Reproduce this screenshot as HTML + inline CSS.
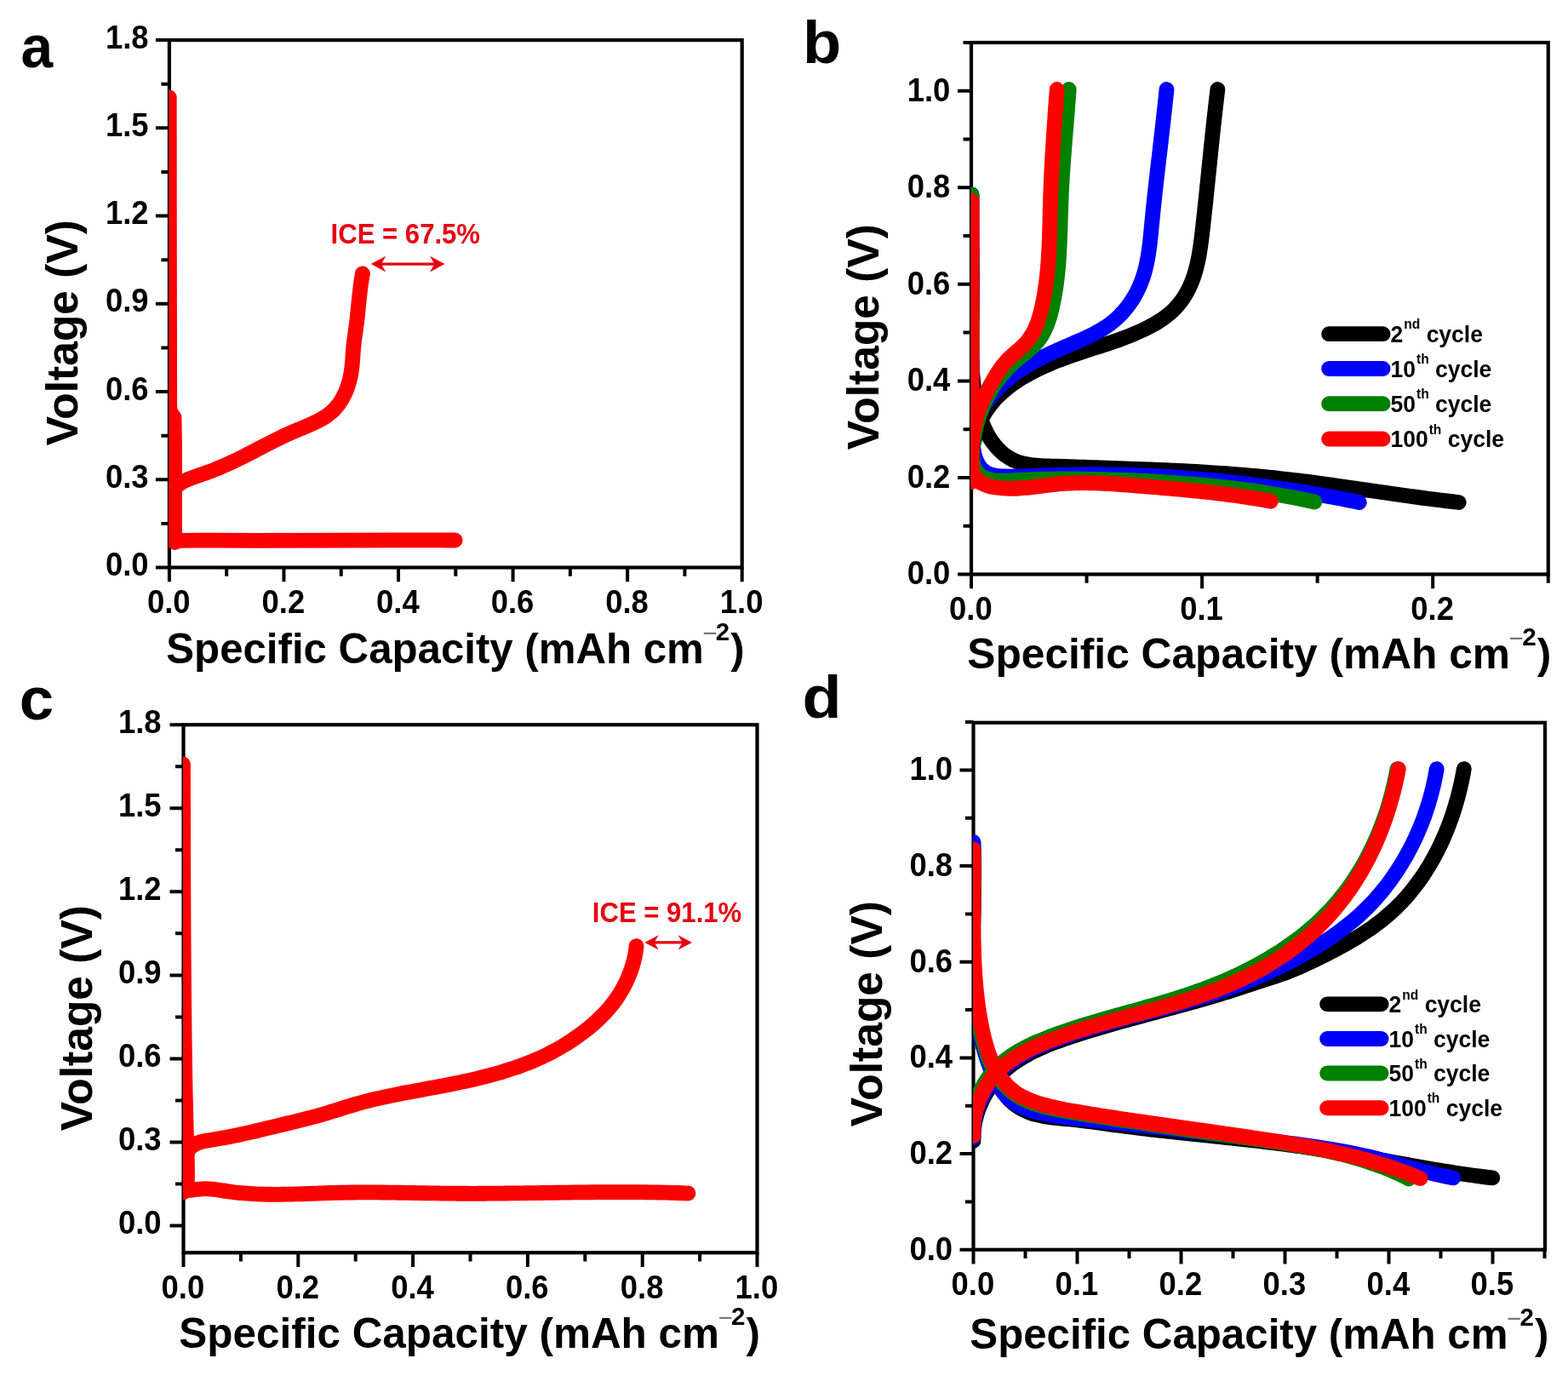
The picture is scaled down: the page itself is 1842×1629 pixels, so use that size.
<!DOCTYPE html>
<html lang="en">
<head>
<meta charset="utf-8">
<title>Galvanostatic voltage profiles</title>
<style>
html,body{margin:0;padding:0;background:#fff;}
body{width:1842px;height:1629px;overflow:hidden;}
svg{display:block;}
text{font-family:"Liberation Sans", Arial, Helvetica, sans-serif;font-weight:bold;}
</style>
</head>
<body>
<svg xmlns="http://www.w3.org/2000/svg" width="1842" height="1629" viewBox="0 0 1842 1629">
<rect width="1842" height="1629" fill="#fff"/>
<g id="axes-a">
<path d="M198.9 666.5v16.8M333.46 666.5v16.8M468.02 666.5v16.8M602.58 666.5v16.8M737.14 666.5v16.8M871.7 666.5v16.8M266.18 666.5v10.3M400.74 666.5v10.3M535.3 666.5v10.3M669.86 666.5v10.3M804.42 666.5v10.3M198.9 666.5h-16M198.9 563.27h-16M198.9 460.03h-16M198.9 356.8h-16M198.9 253.57h-16M198.9 150.33h-16M198.9 47.1h-16M198.9 614.88h-9.5M198.9 511.65h-9.5M198.9 408.42h-9.5M198.9 305.18h-9.5M198.9 201.95h-9.5M198.9 98.72h-9.5" stroke="#000" stroke-width="4" fill="none"/>
<rect x="198.9" y="47.1" width="672.8" height="619.4" fill="none" stroke="#000" stroke-width="4.2"/>
<text transform="translate(198.3 720.4) scale(1 1.07)" font-size="36.4" text-anchor="middle">0.0</text>
<text transform="translate(332.86 720.4) scale(1 1.07)" font-size="36.4" text-anchor="middle">0.2</text>
<text transform="translate(467.42 720.4) scale(1 1.07)" font-size="36.4" text-anchor="middle">0.4</text>
<text transform="translate(601.98 720.4) scale(1 1.07)" font-size="36.4" text-anchor="middle">0.6</text>
<text transform="translate(736.54 720.4) scale(1 1.07)" font-size="36.4" text-anchor="middle">0.8</text>
<text transform="translate(871.1 720.4) scale(1 1.07)" font-size="36.4" text-anchor="middle">1.0</text>
<text transform="translate(174.5 676) scale(1 1.07)" font-size="36.4" text-anchor="end">0.0</text>
<text transform="translate(174.5 572.77) scale(1 1.07)" font-size="36.4" text-anchor="end">0.3</text>
<text transform="translate(174.5 469.53) scale(1 1.07)" font-size="36.4" text-anchor="end">0.6</text>
<text transform="translate(174.5 366.3) scale(1 1.07)" font-size="36.4" text-anchor="end">0.9</text>
<text transform="translate(174.5 263.07) scale(1 1.07)" font-size="36.4" text-anchor="end">1.2</text>
<text transform="translate(174.5 159.83) scale(1 1.07)" font-size="36.4" text-anchor="end">1.5</text>
<text transform="translate(174.5 56.6) scale(1 1.07)" font-size="36.4" text-anchor="end">1.8</text>
<text transform="translate(195.3 778.8) scale(0.998 1.03)" font-size="49.3">Specific Capacity (mAh cm<tspan font-size="29.5" font-weight="normal" fill="#777" dy="-24.2" dx="-1.2">−</tspan><tspan font-size="29.5" dy="-2.2" dx="-2">2</tspan><tspan dy="26.4" dx="1">)</tspan></text>
<text transform="translate(90.5 523.2) rotate(-90)" font-size="51.5">Voltage (V)</text>
<text transform="translate(24.5 79) scale(0.96 1)" font-size="70.5">a</text>
</g>
<clipPath id="clip-a"><rect x="198.4" y="47.1" width="673.3" height="619.4"/></clipPath>
<g id="curves-a" clip-path="url(#clip-a)" fill="none" stroke-width="17.8" stroke-linecap="round" stroke-linejoin="round">
<path d="M198.75 114.25L198.9 300L199.2 478L200 484L204.5 490L205 520L205 600L205 630L205.3 637L207 636L212 634.8L230 634.6L300 634.8L400 634.6L480 634.4L534.75 634.5" stroke="#ff0000"/>
<path d="M199 634C199.1 632.87 199.5 629.53 199.62 627.2C199.75 624.88 199.75 622.48 199.74 620.06C199.73 617.64 199.64 615.16 199.58 612.68C199.52 610.19 199.42 607.67 199.38 605.16C199.35 602.65 199.31 600.11 199.38 597.63C199.45 595.14 199.55 592.63 199.82 590.24C200.1 587.85 200.44 585.48 201.02 583.27C201.59 581.07 202.3 578.93 203.27 577.01C204.25 575.09 205.45 573.31 206.89 571.73C208.33 570.15 210.06 568.78 211.91 567.53C213.76 566.28 215.86 565.23 218 564.23C220.13 563.22 222.45 562.37 224.72 561.5C226.99 560.63 229.32 559.82 231.63 559C233.94 558.18 236.27 557.38 238.59 556.57C240.9 555.76 243.22 554.95 245.52 554.12C247.81 553.28 250.09 552.43 252.35 551.54C254.6 550.66 256.84 549.75 259.06 548.81C261.27 547.88 263.47 546.92 265.66 545.95C267.84 544.97 270.01 543.97 272.17 542.96C274.33 541.95 276.47 540.92 278.61 539.87C280.74 538.83 282.87 537.77 284.99 536.71C287.11 535.64 289.22 534.57 291.33 533.48C293.44 532.4 295.54 531.31 297.65 530.22C299.75 529.13 301.85 528.03 303.96 526.93C306.06 525.84 308.17 524.74 310.28 523.65C312.39 522.56 314.5 521.46 316.63 520.38C318.75 519.3 320.88 518.22 323.02 517.15C325.16 516.09 327.31 515.03 329.48 513.98C331.64 512.94 333.81 511.9 336.01 510.89C338.2 509.88 340.41 508.88 342.63 507.9C344.86 506.92 347.11 505.97 349.37 505.02C351.63 504.07 353.91 503.15 356.17 502.2C358.43 501.26 360.7 500.32 362.93 499.35C365.17 498.37 367.4 497.39 369.57 496.34C371.74 495.3 373.89 494.23 375.97 493.08C378.06 491.93 380.1 490.74 382.05 489.46C384.01 488.17 385.91 486.82 387.7 485.36C389.5 483.89 391.22 482.34 392.83 480.68C394.44 479.01 395.95 477.23 397.37 475.36C398.78 473.5 400.1 471.53 401.32 469.5C402.54 467.47 403.67 465.35 404.7 463.19C405.74 461.02 406.68 458.79 407.53 456.52C408.39 454.25 409.15 451.93 409.83 449.6C410.5 447.26 411.09 444.89 411.6 442.52C412.1 440.15 412.51 437.76 412.86 435.38C413.21 433 413.46 430.62 413.7 428.24C413.93 425.86 414.1 423.48 414.28 421.11C414.46 418.73 414.59 416.36 414.77 413.98C414.95 411.61 415.13 409.23 415.37 406.86C415.6 404.48 415.89 402.11 416.19 399.74C416.48 397.36 416.83 394.99 417.16 392.62C417.48 390.24 417.84 387.87 418.16 385.49C418.48 383.11 418.79 380.73 419.08 378.35C419.37 375.97 419.63 373.59 419.89 371.21C420.15 368.82 420.39 366.44 420.63 364.06C420.87 361.67 421.1 359.29 421.33 356.91C421.57 354.53 421.8 352.14 422.05 349.76C422.3 347.38 422.55 345 422.83 342.63C423.1 340.25 423.39 337.87 423.7 335.5C424.02 333.13 424.35 330.76 424.71 328.39C425.08 326.03 425.7 322.48 425.9 321.3" stroke="#ff0000"/>
</g>
<text transform="translate(388.6 286.2) scale(1 1.04)" font-size="31.1" fill="#e60012">ICE = 67.5%</text>
<path d="M435.8 310.1L453.2 300.7L448.8 308.45L509.4 308.45L505 300.7L522.4 310.1L505 319.5L509.4 311.75L448.8 311.75L453.2 319.5Z" fill="#e60012"/>
<g id="axes-b">
<path d="M1141 674.5v16.8M1412.1 674.5v16.8M1683.2 674.5v16.8M1276.55 674.5v10.3M1547.65 674.5v10.3M1818.75 674.5v10.3M1141 674.5h-16M1141 560.95h-16M1141 447.4h-16M1141 333.85h-16M1141 220.3h-16M1141 106.75h-16M1141 617.73h-9.5M1141 504.18h-9.5M1141 390.62h-9.5M1141 277.08h-9.5M1141 163.52h-9.5M1141 49.97h-9.5" stroke="#000" stroke-width="4" fill="none"/>
<rect x="1141" y="50" width="677.75" height="624.5" fill="none" stroke="#000" stroke-width="4.2"/>
<text transform="translate(1140.4 728.4) scale(1 1.07)" font-size="36.4" text-anchor="middle">0.0</text>
<text transform="translate(1411.5 728.4) scale(1 1.07)" font-size="36.4" text-anchor="middle">0.1</text>
<text transform="translate(1682.6 728.4) scale(1 1.07)" font-size="36.4" text-anchor="middle">0.2</text>
<text transform="translate(1116.3 686.3) scale(1 1.07)" font-size="36.4" text-anchor="end">0.0</text>
<text transform="translate(1116.3 572.75) scale(1 1.07)" font-size="36.4" text-anchor="end">0.2</text>
<text transform="translate(1116.3 459.2) scale(1 1.07)" font-size="36.4" text-anchor="end">0.4</text>
<text transform="translate(1116.3 345.65) scale(1 1.07)" font-size="36.4" text-anchor="end">0.6</text>
<text transform="translate(1116.3 232.1) scale(1 1.07)" font-size="36.4" text-anchor="end">0.8</text>
<text transform="translate(1116.3 118.55) scale(1 1.07)" font-size="36.4" text-anchor="end">1.0</text>
<text transform="translate(1136.3 785.3) scale(1.008 1.03)" font-size="49.3">Specific Capacity (mAh cm<tspan font-size="29.5" font-weight="normal" fill="#777" dy="-24.2" dx="-1.2">−</tspan><tspan font-size="29.5" dy="-2.2" dx="-2">2</tspan><tspan dy="26.4" dx="1">)</tspan></text>
<text transform="translate(1032 528.2) rotate(-90)" font-size="51.5">Voltage (V)</text>
<text transform="translate(943 74) scale(1.05 1)" font-size="70.5">b</text>
</g>
<clipPath id="clip-b"><rect x="1140.5" y="50" width="678.25" height="624.5"/></clipPath>
<g id="curves-b" clip-path="url(#clip-b)" fill="none" stroke-width="17.8" stroke-linecap="round" stroke-linejoin="round">
<path d="M1141.5 228.5C1141.47 229.67 1141.38 233.19 1141.33 235.54C1141.29 237.89 1141.25 240.24 1141.23 242.59C1141.2 244.94 1141.18 247.29 1141.17 249.64C1141.16 252 1141.15 254.35 1141.16 256.71C1141.16 259.07 1141.17 261.42 1141.18 263.78C1141.19 266.14 1141.21 268.5 1141.24 270.86C1141.26 273.22 1141.29 275.58 1141.32 277.94C1141.35 280.3 1141.38 282.66 1141.42 285.02C1141.45 287.39 1141.49 289.75 1141.53 292.11C1141.57 294.47 1141.61 296.84 1141.64 299.2C1141.68 301.56 1141.72 303.93 1141.76 306.29C1141.79 308.65 1141.83 311.01 1141.86 313.38C1141.89 315.74 1141.92 318.1 1141.95 320.46C1141.97 322.82 1141.99 325.19 1142.01 327.55C1142.03 329.91 1142.04 332.27 1142.05 334.63C1142.05 336.99 1142.05 339.34 1142.04 341.7C1142.04 344.06 1142.02 346.42 1142 348.77C1141.98 351.13 1141.95 353.48 1141.91 355.83C1141.87 358.19 1141.83 360.54 1141.78 362.89C1141.73 365.24 1141.68 367.59 1141.63 369.94C1141.58 372.29 1141.52 374.64 1141.47 376.99C1141.42 379.34 1141.37 381.68 1141.32 384.03C1141.28 386.38 1141.23 388.72 1141.2 391.07C1141.16 393.41 1141.14 395.76 1141.12 398.1C1141.1 400.45 1141.09 402.79 1141.09 405.14C1141.1 407.48 1141.11 409.83 1141.15 412.17C1141.18 414.52 1141.22 416.86 1141.29 419.2C1141.35 421.55 1141.43 423.89 1141.53 426.24C1141.64 428.58 1141.76 430.93 1141.9 433.27C1142.05 435.62 1142.21 437.96 1142.41 440.31C1142.6 442.66 1142.82 445 1143.07 447.35C1143.32 449.7 1143.59 452.05 1143.9 454.39C1144.21 456.74 1144.54 459.09 1144.91 461.44C1145.29 463.79 1145.69 466.15 1146.13 468.49C1146.58 470.84 1147.05 473.19 1147.58 475.53C1148.11 477.87 1148.67 480.2 1149.3 482.51C1149.92 484.82 1150.59 487.13 1151.32 489.4C1152.05 491.67 1152.83 493.93 1153.68 496.16C1154.53 498.38 1155.44 500.58 1156.42 502.74C1157.41 504.9 1158.46 507.04 1159.58 509.12C1160.71 511.2 1161.91 513.25 1163.17 515.23C1164.44 517.2 1165.78 519.13 1167.19 520.98C1168.6 522.83 1170.09 524.61 1171.64 526.3C1173.19 527.99 1174.81 529.61 1176.5 531.11C1178.18 532.62 1179.94 534.03 1181.77 535.33C1183.59 536.62 1185.49 537.81 1187.45 538.87C1189.41 539.93 1191.44 540.85 1193.52 541.67C1195.61 542.48 1197.77 543.16 1199.96 543.76C1202.15 544.35 1204.41 544.83 1206.69 545.25C1208.97 545.67 1211.3 545.98 1213.64 546.26C1215.98 546.53 1218.37 546.73 1220.75 546.9C1223.14 547.07 1225.56 547.18 1227.96 547.29C1230.37 547.4 1232.79 547.46 1235.2 547.54C1237.61 547.62 1240.01 547.68 1242.41 547.76C1244.8 547.83 1247.19 547.9 1249.57 547.98C1251.95 548.05 1254.32 548.12 1256.69 548.2C1259.06 548.27 1261.42 548.35 1263.78 548.42C1266.14 548.5 1268.49 548.57 1270.85 548.65C1273.2 548.72 1275.55 548.8 1277.9 548.87C1280.25 548.95 1282.6 549.02 1284.94 549.1C1287.29 549.18 1289.64 549.25 1291.99 549.33C1294.34 549.41 1296.69 549.48 1299.04 549.56C1301.39 549.64 1303.74 549.71 1306.09 549.79C1308.44 549.87 1310.79 549.95 1313.14 550.03C1315.5 550.11 1317.85 550.19 1320.2 550.27C1322.55 550.36 1324.9 550.44 1327.26 550.52C1329.61 550.61 1331.96 550.69 1334.32 550.78C1336.67 550.87 1339.02 550.96 1341.38 551.05C1343.73 551.14 1346.08 551.23 1348.44 551.32C1350.79 551.41 1353.15 551.51 1355.5 551.61C1357.86 551.7 1360.21 551.8 1362.56 551.9C1364.92 552 1367.27 552.11 1369.63 552.21C1371.98 552.32 1374.34 552.43 1376.69 552.54C1379.05 552.65 1381.4 552.76 1383.76 552.88C1386.11 552.99 1388.46 553.11 1390.82 553.23C1393.17 553.35 1395.53 553.48 1397.88 553.6C1400.24 553.73 1402.59 553.86 1404.94 553.99C1407.3 554.13 1409.65 554.26 1412.01 554.4C1414.36 554.54 1416.71 554.69 1419.07 554.83C1421.42 554.98 1423.77 555.13 1426.12 555.28C1428.48 555.44 1430.83 555.6 1433.18 555.76C1435.53 555.92 1437.88 556.08 1440.24 556.25C1442.59 556.42 1444.94 556.6 1447.29 556.78C1449.64 556.96 1451.99 557.14 1454.34 557.33C1456.69 557.51 1459.04 557.7 1461.38 557.9C1463.73 558.1 1466.08 558.3 1468.43 558.5C1470.78 558.71 1473.12 558.92 1475.47 559.14C1477.82 559.35 1480.16 559.57 1482.51 559.8C1484.85 560.02 1487.2 560.25 1489.54 560.49C1491.88 560.73 1494.23 560.97 1496.57 561.22C1498.91 561.46 1501.26 561.72 1503.6 561.98C1505.94 562.23 1508.28 562.5 1510.62 562.77C1512.96 563.03 1515.3 563.31 1517.64 563.59C1519.98 563.86 1522.31 564.15 1524.65 564.43C1526.99 564.72 1529.33 565.01 1531.66 565.31C1534 565.6 1536.34 565.9 1538.67 566.2C1541.01 566.51 1543.34 566.81 1545.68 567.12C1548.01 567.43 1550.35 567.74 1552.68 568.06C1555.02 568.37 1557.35 568.69 1559.68 569.01C1562.02 569.33 1564.35 569.65 1566.68 569.98C1569.02 570.3 1571.35 570.63 1573.68 570.96C1576.01 571.29 1578.35 571.62 1580.68 571.95C1583.01 572.28 1585.34 572.62 1587.67 572.95C1590.01 573.29 1592.34 573.62 1594.67 573.96C1597 574.29 1599.33 574.63 1601.66 574.97C1604 575.31 1606.33 575.64 1608.66 575.98C1610.99 576.32 1613.32 576.66 1615.65 576.99C1617.99 577.33 1620.32 577.67 1622.65 578C1624.98 578.34 1627.31 578.68 1629.65 579.01C1631.98 579.35 1634.31 579.68 1636.64 580.01C1638.98 580.34 1641.31 580.68 1643.64 581C1645.97 581.33 1648.31 581.66 1650.64 581.99C1652.97 582.31 1655.31 582.63 1657.64 582.96C1659.98 583.28 1662.31 583.59 1664.65 583.91C1666.98 584.23 1669.32 584.54 1671.65 584.85C1673.99 585.16 1676.32 585.46 1678.66 585.77C1681 586.07 1683.33 586.37 1685.67 586.66C1688.01 586.96 1690.35 587.25 1692.69 587.54C1695.02 587.83 1697.36 588.11 1699.7 588.39C1702.04 588.67 1704.38 588.94 1706.72 589.21C1709.07 589.48 1712.58 589.87 1713.75 590" stroke="#000000"/>
<path d="M1141.5 560C1141.44 558.85 1141.21 555.4 1141.14 553.07C1141.07 550.74 1141.06 548.39 1141.1 546.02C1141.14 543.66 1141.23 541.28 1141.38 538.89C1141.53 536.51 1141.74 534.12 1142.01 531.73C1142.28 529.35 1142.61 526.96 1143 524.59C1143.39 522.21 1143.84 519.84 1144.36 517.5C1144.88 515.15 1145.46 512.82 1146.11 510.52C1146.76 508.21 1147.47 505.93 1148.26 503.69C1149.04 501.44 1149.89 499.22 1150.82 497.05C1151.75 494.88 1152.74 492.74 1153.82 490.66C1154.89 488.58 1156.03 486.54 1157.25 484.56C1158.47 482.57 1159.76 480.64 1161.12 478.75C1162.47 476.87 1163.9 475.03 1165.38 473.25C1166.87 471.46 1168.41 469.72 1170.01 468.02C1171.61 466.32 1173.27 464.68 1174.97 463.07C1176.67 461.46 1178.42 459.9 1180.22 458.38C1182.01 456.86 1183.85 455.39 1185.73 453.95C1187.6 452.52 1189.52 451.12 1191.47 449.77C1193.41 448.41 1195.4 447.09 1197.4 445.82C1199.4 444.54 1201.44 443.3 1203.49 442.09C1205.54 440.89 1207.62 439.72 1209.71 438.58C1211.79 437.45 1213.9 436.35 1216.01 435.28C1218.13 434.21 1220.26 433.18 1222.39 432.17C1224.53 431.17 1226.68 430.19 1228.84 429.24C1231 428.29 1233.17 427.37 1235.35 426.46C1237.52 425.56 1239.71 424.68 1241.91 423.82C1244.1 422.96 1246.31 422.13 1248.52 421.3C1250.73 420.48 1252.95 419.68 1255.17 418.88C1257.39 418.09 1259.62 417.32 1261.86 416.55C1264.09 415.78 1266.34 415.03 1268.58 414.28C1270.83 413.53 1273.08 412.79 1275.33 412.05C1277.58 411.32 1279.84 410.59 1282.1 409.86C1284.35 409.12 1286.62 408.4 1288.88 407.67C1291.14 406.94 1293.4 406.21 1295.66 405.47C1297.92 404.72 1300.18 403.98 1302.43 403.23C1304.68 402.47 1306.94 401.71 1309.18 400.93C1311.43 400.15 1313.67 399.36 1315.9 398.54C1318.13 397.73 1320.36 396.91 1322.57 396.06C1324.79 395.21 1327 394.34 1329.19 393.44C1331.39 392.54 1333.57 391.62 1335.74 390.67C1337.91 389.72 1340.07 388.74 1342.22 387.73C1344.36 386.72 1346.49 385.67 1348.6 384.59C1350.71 383.51 1352.81 382.39 1354.87 381.23C1356.94 380.07 1358.99 378.87 1360.99 377.61C1362.99 376.35 1364.96 375.06 1366.88 373.7C1368.79 372.34 1370.67 370.93 1372.48 369.45C1374.29 367.97 1376.05 366.44 1377.74 364.84C1379.42 363.23 1381.04 361.55 1382.58 359.82C1384.13 358.08 1385.6 356.27 1387 354.42C1388.41 352.57 1389.74 350.65 1390.99 348.69C1392.25 346.74 1393.44 344.73 1394.56 342.69C1395.67 340.65 1396.71 338.56 1397.69 336.45C1398.66 334.34 1399.56 332.19 1400.41 330.02C1401.26 327.84 1402.03 325.64 1402.76 323.41C1403.49 321.19 1404.16 318.93 1404.78 316.66C1405.41 314.39 1405.97 312.09 1406.51 309.78C1407.04 307.47 1407.53 305.14 1407.99 302.8C1408.44 300.46 1408.86 298.1 1409.25 295.74C1409.64 293.37 1410 290.99 1410.34 288.61C1410.69 286.23 1411 283.84 1411.3 281.46C1411.61 279.07 1411.89 276.67 1412.17 274.28C1412.45 271.89 1412.72 269.5 1412.99 267.12C1413.26 264.74 1413.52 262.36 1413.79 259.98C1414.05 257.6 1414.31 255.23 1414.56 252.87C1414.82 250.5 1415.08 248.13 1415.33 245.77C1415.58 243.41 1415.83 241.06 1416.08 238.7C1416.33 236.35 1416.57 234 1416.82 231.65C1417.06 229.3 1417.31 226.95 1417.55 224.61C1417.79 222.26 1418.03 219.92 1418.27 217.58C1418.51 215.24 1418.75 212.9 1418.99 210.56C1419.23 208.23 1419.47 205.89 1419.71 203.56C1419.94 201.22 1420.18 198.89 1420.42 196.55C1420.66 194.22 1420.89 191.89 1421.13 189.56C1421.37 187.22 1421.61 184.89 1421.85 182.56C1422.09 180.23 1422.33 177.89 1422.57 175.56C1422.81 173.23 1423.05 170.89 1423.29 168.56C1423.54 166.22 1423.78 163.89 1424.03 161.55C1424.27 159.21 1424.52 156.88 1424.77 154.53C1425.02 152.19 1425.27 149.85 1425.52 147.51C1425.78 145.16 1426.03 142.82 1426.29 140.47C1426.55 138.12 1426.81 135.77 1427.08 133.41C1427.34 131.06 1427.61 128.7 1427.88 126.34C1428.15 123.98 1428.42 121.62 1428.7 119.25C1428.97 116.88 1429.25 114.51 1429.54 112.14C1429.82 109.76 1430.26 106.19 1430.4 105" stroke="#000000"/>
<path d="M1141.5 228.5C1141.5 229.68 1141.52 233.2 1141.52 235.55C1141.53 237.9 1141.54 240.25 1141.54 242.61C1141.55 244.96 1141.55 247.32 1141.56 249.68C1141.56 252.04 1141.56 254.4 1141.57 256.76C1141.57 259.12 1141.57 261.49 1141.57 263.85C1141.57 266.22 1141.58 268.58 1141.58 270.95C1141.58 273.32 1141.58 275.69 1141.58 278.06C1141.58 280.43 1141.57 282.8 1141.57 285.17C1141.57 287.55 1141.57 289.92 1141.57 292.29C1141.57 294.67 1141.56 297.04 1141.56 299.42C1141.56 301.79 1141.56 304.17 1141.56 306.55C1141.55 308.92 1141.55 311.3 1141.55 313.68C1141.54 316.06 1141.54 318.43 1141.54 320.81C1141.54 323.19 1141.53 325.57 1141.53 327.95C1141.53 330.33 1141.53 332.7 1141.52 335.08C1141.52 337.46 1141.52 339.84 1141.52 342.22C1141.52 344.59 1141.52 346.97 1141.51 349.35C1141.51 351.72 1141.51 354.1 1141.51 356.47C1141.51 358.85 1141.51 361.23 1141.51 363.6C1141.51 365.97 1141.51 368.35 1141.52 370.72C1141.52 373.09 1141.52 375.46 1141.52 377.83C1141.52 380.2 1141.53 382.57 1141.53 384.94C1141.54 387.31 1141.54 389.67 1141.55 392.04C1141.55 394.4 1141.56 396.76 1141.57 399.13C1141.57 401.49 1141.58 403.85 1141.59 406.21C1141.6 408.56 1141.61 410.92 1141.62 413.28C1141.63 415.63 1141.64 417.98 1141.66 420.33C1141.67 422.68 1141.69 425.03 1141.7 427.38C1141.72 429.72 1141.73 432.07 1141.75 434.41C1141.77 436.75 1141.79 439.09 1141.81 441.42C1141.83 443.76 1141.85 446.09 1141.87 448.42C1141.9 450.75 1141.92 453.08 1141.95 455.41C1141.97 457.74 1142 460.07 1142.02 462.41C1142.05 464.74 1142.07 467.08 1142.1 469.43C1142.12 471.78 1142.14 474.13 1142.16 476.5C1142.18 478.87 1142.2 481.25 1142.22 483.65C1142.23 486.04 1142.24 488.45 1142.25 490.88C1142.26 493.32 1142.26 495.77 1142.27 498.24C1142.27 500.71 1142.25 503.21 1142.27 505.71C1142.28 508.21 1142.29 510.74 1142.37 513.23C1142.44 515.72 1142.54 518.22 1142.73 520.66C1142.92 523.1 1143.16 525.52 1143.53 527.87C1143.89 530.21 1144.33 532.52 1144.92 534.73C1145.51 536.94 1146.2 539.09 1147.07 541.12C1147.94 543.15 1148.95 545.11 1150.15 546.9C1151.34 548.68 1152.71 550.39 1154.26 551.85C1155.8 553.3 1157.53 554.61 1159.42 555.62C1161.31 556.63 1163.43 557.35 1165.61 557.92C1167.8 558.49 1170.18 558.77 1172.53 559.02C1174.89 559.28 1177.34 559.36 1179.75 559.46C1182.15 559.55 1184.56 559.59 1186.96 559.61C1189.36 559.63 1191.75 559.61 1194.13 559.58C1196.52 559.54 1198.9 559.48 1201.28 559.4C1203.66 559.33 1206.03 559.23 1208.4 559.13C1210.78 559.03 1213.15 558.92 1215.51 558.81C1217.88 558.7 1220.25 558.59 1222.62 558.49C1224.99 558.39 1227.36 558.29 1229.73 558.2C1232.09 558.11 1234.46 558.03 1236.83 557.95C1239.2 557.87 1241.57 557.8 1243.94 557.73C1246.31 557.67 1248.67 557.61 1251.04 557.56C1253.41 557.5 1255.78 557.46 1258.15 557.41C1260.52 557.37 1262.89 557.34 1265.25 557.31C1267.62 557.28 1269.99 557.26 1272.36 557.24C1274.73 557.22 1277.1 557.21 1279.46 557.2C1281.83 557.2 1284.2 557.2 1286.57 557.21C1288.94 557.21 1291.3 557.22 1293.67 557.24C1296.04 557.26 1298.41 557.28 1300.77 557.31C1303.14 557.34 1305.51 557.38 1307.88 557.42C1310.24 557.46 1312.61 557.51 1314.98 557.56C1317.34 557.62 1319.71 557.68 1322.08 557.74C1324.44 557.81 1326.81 557.88 1329.17 557.95C1331.54 558.03 1333.91 558.11 1336.27 558.2C1338.64 558.29 1341 558.38 1343.37 558.48C1345.73 558.58 1348.1 558.68 1350.46 558.79C1352.82 558.9 1355.19 559.02 1357.55 559.14C1359.91 559.26 1362.28 559.39 1364.64 559.52C1367 559.66 1369.37 559.8 1371.73 559.94C1374.09 560.08 1376.45 560.23 1378.81 560.39C1381.18 560.55 1383.54 560.71 1385.9 560.87C1388.26 561.04 1390.62 561.21 1392.98 561.39C1395.34 561.57 1397.7 561.75 1400.06 561.94C1402.42 562.13 1404.78 562.32 1407.13 562.52C1409.49 562.72 1411.85 562.92 1414.21 563.13C1416.56 563.34 1418.92 563.56 1421.28 563.78C1423.63 564 1425.99 564.23 1428.34 564.46C1430.7 564.69 1433.05 564.93 1435.41 565.17C1437.76 565.41 1440.12 565.66 1442.47 565.91C1444.82 566.16 1447.18 566.42 1449.53 566.69C1451.88 566.95 1454.23 567.22 1456.58 567.49C1458.93 567.77 1461.28 568.05 1463.63 568.33C1465.98 568.61 1468.33 568.9 1470.68 569.2C1473.03 569.49 1475.38 569.79 1477.72 570.1C1480.07 570.4 1482.42 570.71 1484.76 571.03C1487.11 571.35 1489.45 571.67 1491.8 571.99C1494.14 572.32 1496.48 572.65 1498.83 572.98C1501.17 573.32 1503.51 573.66 1505.85 574.01C1508.2 574.35 1510.54 574.7 1512.88 575.06C1515.22 575.42 1517.55 575.78 1519.89 576.14C1522.23 576.51 1524.57 576.88 1526.91 577.26C1529.24 577.63 1531.58 578.01 1533.91 578.4C1536.25 578.79 1538.58 579.18 1540.92 579.57C1543.25 579.97 1545.58 580.37 1547.92 580.78C1550.25 581.18 1552.58 581.59 1554.91 582.01C1557.24 582.42 1559.57 582.84 1561.9 583.27C1564.22 583.69 1566.55 584.12 1568.88 584.56C1571.2 584.99 1573.53 585.43 1575.85 585.88C1578.18 586.32 1580.5 586.77 1582.83 587.22C1585.15 587.68 1587.47 588.13 1589.79 588.6C1592.11 589.06 1595.59 589.77 1596.75 590" stroke="#0000ff"/>
<path d="M1141.5 560C1141.41 558.81 1141.09 555.25 1140.94 552.86C1140.79 550.47 1140.68 548.07 1140.61 545.67C1140.54 543.26 1140.51 540.85 1140.53 538.45C1140.55 536.04 1140.62 533.63 1140.73 531.23C1140.85 528.83 1141.02 526.43 1141.25 524.04C1141.47 521.66 1141.75 519.28 1142.1 516.92C1142.44 514.56 1142.84 512.21 1143.31 509.89C1143.78 507.57 1144.31 505.27 1144.91 502.99C1145.52 500.72 1146.19 498.46 1146.94 496.24C1147.69 494.03 1148.51 491.83 1149.41 489.68C1150.31 487.53 1151.29 485.41 1152.35 483.34C1153.41 481.26 1154.55 479.22 1155.75 477.22C1156.95 475.21 1158.23 473.25 1159.57 471.33C1160.9 469.4 1162.31 467.51 1163.77 465.67C1165.23 463.82 1166.76 462.01 1168.33 460.24C1169.9 458.47 1171.53 456.75 1173.2 455.06C1174.87 453.37 1176.59 451.72 1178.35 450.11C1180.1 448.5 1181.91 446.94 1183.74 445.41C1185.57 443.88 1187.44 442.4 1189.34 440.96C1191.24 439.51 1193.16 438.11 1195.11 436.75C1197.06 435.39 1199.04 434.07 1201.03 432.79C1203.03 431.5 1205.05 430.26 1207.08 429.05C1209.12 427.83 1211.18 426.65 1213.25 425.5C1215.33 424.35 1217.42 423.23 1219.53 422.13C1221.64 421.03 1223.77 419.96 1225.91 418.9C1228.04 417.85 1230.2 416.82 1232.36 415.8C1234.52 414.78 1236.7 413.79 1238.89 412.8C1241.07 411.81 1243.27 410.84 1245.47 409.87C1247.67 408.91 1249.89 407.95 1252.1 407C1254.32 406.05 1256.54 405.1 1258.76 404.15C1260.98 403.2 1263.21 402.25 1265.42 401.29C1267.63 400.32 1269.84 399.35 1272.04 398.36C1274.23 397.36 1276.41 396.36 1278.57 395.32C1280.73 394.28 1282.87 393.22 1284.98 392.12C1287.09 391.02 1289.18 389.89 1291.23 388.72C1293.28 387.54 1295.3 386.33 1297.28 385.06C1299.25 383.79 1301.2 382.48 1303.08 381.1C1304.97 379.72 1306.82 378.29 1308.61 376.79C1310.4 375.3 1312.13 373.74 1313.82 372.12C1315.5 370.5 1317.13 368.82 1318.7 367.1C1320.28 365.37 1321.8 363.59 1323.26 361.76C1324.72 359.93 1326.12 358.05 1327.47 356.13C1328.81 354.2 1330.1 352.24 1331.33 350.23C1332.55 348.23 1333.72 346.18 1334.82 344.1C1335.93 342.02 1336.97 339.91 1337.95 337.76C1338.93 335.62 1339.84 333.45 1340.7 331.25C1341.55 329.05 1342.33 326.82 1343.05 324.58C1343.78 322.33 1344.44 320.07 1345.05 317.78C1345.66 315.49 1346.22 313.19 1346.73 310.87C1347.25 308.55 1347.71 306.21 1348.14 303.86C1348.57 301.51 1348.95 299.15 1349.31 296.78C1349.67 294.41 1350 292.02 1350.3 289.64C1350.61 287.25 1350.89 284.85 1351.15 282.46C1351.42 280.06 1351.66 277.65 1351.9 275.25C1352.14 272.85 1352.37 270.45 1352.6 268.05C1352.83 265.65 1353.05 263.25 1353.28 260.85C1353.52 258.46 1353.75 256.07 1353.99 253.69C1354.23 251.3 1354.47 248.92 1354.71 246.54C1354.96 244.17 1355.2 241.79 1355.45 239.42C1355.7 237.05 1355.96 234.69 1356.21 232.32C1356.47 229.96 1356.72 227.6 1356.98 225.24C1357.24 222.88 1357.5 220.52 1357.77 218.17C1358.03 215.81 1358.3 213.46 1358.56 211.11C1358.83 208.76 1359.1 206.41 1359.36 204.06C1359.63 201.71 1359.9 199.37 1360.17 197.02C1360.45 194.67 1360.72 192.33 1360.99 189.98C1361.26 187.64 1361.53 185.29 1361.81 182.95C1362.08 180.6 1362.35 178.26 1362.63 175.91C1362.9 173.57 1363.17 171.22 1363.45 168.87C1363.72 166.53 1363.99 164.18 1364.26 161.83C1364.53 159.48 1364.81 157.13 1365.08 154.78C1365.35 152.43 1365.61 150.08 1365.88 147.72C1366.15 145.36 1366.42 143.01 1366.68 140.65C1366.95 138.29 1367.21 135.92 1367.47 133.56C1367.73 131.19 1367.99 128.82 1368.25 126.45C1368.51 124.08 1368.76 121.7 1369.02 119.32C1369.27 116.94 1369.52 114.56 1369.77 112.17C1370.01 109.79 1370.38 106.2 1370.5 105" stroke="#0000ff"/>
<path d="M1141.5 228.5C1141.49 229.68 1141.45 233.22 1141.43 235.58C1141.41 237.94 1141.39 240.31 1141.37 242.67C1141.36 245.03 1141.34 247.39 1141.33 249.75C1141.32 252.11 1141.31 254.48 1141.3 256.84C1141.3 259.2 1141.29 261.56 1141.29 263.92C1141.28 266.28 1141.28 268.65 1141.28 271.01C1141.28 273.37 1141.29 275.73 1141.29 278.09C1141.29 280.46 1141.3 282.82 1141.31 285.18C1141.31 287.54 1141.32 289.91 1141.33 292.27C1141.34 294.63 1141.35 296.99 1141.36 299.35C1141.37 301.72 1141.38 304.08 1141.39 306.44C1141.4 308.8 1141.42 311.17 1141.43 313.53C1141.44 315.89 1141.46 318.25 1141.47 320.62C1141.48 322.98 1141.5 325.34 1141.51 327.7C1141.53 330.06 1141.54 332.43 1141.56 334.79C1141.57 337.15 1141.59 339.51 1141.6 341.88C1141.61 344.24 1141.63 346.6 1141.64 348.96C1141.65 351.32 1141.67 353.69 1141.68 356.05C1141.69 358.41 1141.7 360.77 1141.71 363.13C1141.72 365.49 1141.73 367.86 1141.74 370.22C1141.74 372.58 1141.75 374.94 1141.76 377.3C1141.76 379.66 1141.77 382.03 1141.77 384.39C1141.77 386.75 1141.77 389.11 1141.77 391.47C1141.77 393.83 1141.77 396.19 1141.76 398.55C1141.76 400.91 1141.75 403.27 1141.75 405.63C1141.74 407.99 1141.73 410.35 1141.71 412.71C1141.7 415.07 1141.69 417.43 1141.67 419.79C1141.65 422.15 1141.63 424.51 1141.61 426.87C1141.58 429.23 1141.56 431.59 1141.53 433.95C1141.5 436.31 1141.47 438.67 1141.43 441.03C1141.4 443.39 1141.36 445.75 1141.33 448.11C1141.29 450.47 1141.25 452.83 1141.22 455.19C1141.18 457.55 1141.14 459.91 1141.11 462.27C1141.08 464.63 1141.05 466.99 1141.02 469.35C1140.99 471.72 1140.97 474.08 1140.95 476.45C1140.93 478.81 1140.91 481.18 1140.91 483.55C1140.9 485.92 1140.9 488.29 1140.9 490.66C1140.91 493.03 1140.92 495.41 1140.94 497.78C1140.97 500.16 1141 502.54 1141.04 504.92C1141.08 507.3 1141.13 509.68 1141.2 512.07C1141.26 514.45 1141.33 516.84 1141.42 519.23C1141.51 521.62 1141.61 524.02 1141.73 526.41C1141.85 528.81 1141.95 531.23 1142.12 533.61C1142.29 536 1142.41 538.44 1142.73 540.74C1143.06 543.04 1143.41 545.33 1144.07 547.4C1144.73 549.46 1145.57 551.43 1146.69 553.15C1147.82 554.87 1149.26 556.39 1150.84 557.71C1152.42 559.02 1154.25 560.13 1156.17 561.04C1158.08 561.95 1160.16 562.63 1162.31 563.17C1164.46 563.71 1166.74 564.04 1169.07 564.29C1171.39 564.54 1173.82 564.62 1176.26 564.66C1178.7 564.7 1181.22 564.61 1183.72 564.53C1186.22 564.44 1188.76 564.28 1191.27 564.15C1193.78 564.02 1196.28 563.87 1198.76 563.75C1201.24 563.63 1203.71 563.52 1206.15 563.41C1208.6 563.31 1211.03 563.22 1213.45 563.13C1215.87 563.05 1218.27 562.97 1220.66 562.91C1223.05 562.84 1225.43 562.78 1227.8 562.73C1230.17 562.68 1232.53 562.64 1234.88 562.6C1237.23 562.57 1239.58 562.54 1241.92 562.52C1244.25 562.5 1246.58 562.49 1248.91 562.48C1251.24 562.47 1253.56 562.47 1255.88 562.48C1258.2 562.48 1260.52 562.5 1262.84 562.51C1265.15 562.53 1267.47 562.55 1269.79 562.58C1272.1 562.61 1274.42 562.64 1276.75 562.68C1279.07 562.72 1281.39 562.76 1283.72 562.81C1286.05 562.85 1288.39 562.9 1290.73 562.96C1293.07 563.01 1295.42 563.07 1297.77 563.14C1300.11 563.2 1302.47 563.27 1304.83 563.34C1307.18 563.41 1309.54 563.48 1311.91 563.56C1314.27 563.64 1316.64 563.73 1319.01 563.81C1321.37 563.9 1323.75 563.99 1326.12 564.09C1328.49 564.19 1330.87 564.29 1333.24 564.39C1335.62 564.5 1337.99 564.61 1340.37 564.72C1342.75 564.84 1345.13 564.95 1347.5 565.08C1349.88 565.2 1352.26 565.33 1354.63 565.46C1357.01 565.59 1359.39 565.72 1361.76 565.86C1364.14 566 1366.51 566.15 1368.88 566.3C1371.25 566.45 1373.62 566.6 1375.99 566.76C1378.36 566.92 1380.73 567.08 1383.09 567.25C1385.45 567.42 1387.82 567.59 1390.18 567.77C1392.54 567.94 1394.89 568.13 1397.25 568.32C1399.61 568.5 1401.96 568.7 1404.32 568.9C1406.67 569.1 1409.02 569.3 1411.37 569.51C1413.72 569.72 1416.07 569.94 1418.42 570.16C1420.76 570.39 1423.11 570.62 1425.45 570.85C1427.8 571.09 1430.14 571.33 1432.48 571.58C1434.83 571.83 1437.17 572.08 1439.51 572.34C1441.84 572.6 1444.18 572.87 1446.52 573.15C1448.86 573.42 1451.19 573.71 1453.53 574C1455.86 574.29 1458.2 574.58 1460.53 574.89C1462.86 575.19 1465.19 575.5 1467.52 575.82C1469.86 576.14 1472.19 576.47 1474.52 576.81C1476.84 577.14 1479.17 577.49 1481.5 577.84C1483.83 578.19 1486.16 578.55 1488.48 578.92C1490.81 579.29 1493.14 579.66 1495.46 580.05C1497.79 580.43 1500.11 580.83 1502.44 581.23C1504.76 581.63 1507.09 582.05 1509.41 582.47C1511.73 582.89 1514.06 583.32 1516.38 583.76C1518.7 584.2 1521.03 584.65 1523.35 585.11C1525.67 585.57 1527.99 586.03 1530.32 586.51C1532.64 586.99 1534.96 587.48 1537.28 587.98C1539.61 588.47 1543.09 589.25 1544.25 589.5" stroke="#008000"/>
<path d="M1141.5 560C1141.45 558.82 1141.25 555.27 1141.18 552.9C1141.12 550.52 1141.1 548.14 1141.12 545.76C1141.14 543.38 1141.21 540.99 1141.32 538.6C1141.43 536.22 1141.58 533.83 1141.77 531.45C1141.97 529.06 1142.21 526.68 1142.5 524.3C1142.78 521.93 1143.11 519.55 1143.49 517.19C1143.86 514.82 1144.28 512.47 1144.75 510.12C1145.22 507.77 1145.73 505.43 1146.29 503.11C1146.85 500.78 1147.45 498.47 1148.1 496.17C1148.76 493.88 1149.46 491.59 1150.2 489.33C1150.95 487.06 1151.74 484.82 1152.59 482.59C1153.43 480.36 1154.32 478.16 1155.26 475.97C1156.2 473.79 1157.19 471.63 1158.23 469.49C1159.27 467.36 1160.35 465.25 1161.49 463.17C1162.63 461.09 1163.82 459.03 1165.06 457.01C1166.29 454.99 1167.58 452.99 1168.92 451.03C1170.26 449.08 1171.65 447.15 1173.1 445.26C1174.54 443.37 1176.03 441.51 1177.58 439.69C1179.12 437.88 1180.72 436.09 1182.36 434.35C1184 432.6 1185.7 430.89 1187.43 429.22C1189.17 427.54 1190.96 425.91 1192.79 424.31C1194.61 422.7 1196.51 421.16 1198.4 419.61C1200.28 418.06 1202.22 416.55 1204.1 415.01C1205.98 413.46 1207.88 411.94 1209.68 410.34C1211.47 408.75 1213.25 407.15 1214.89 405.46C1216.52 403.77 1218.08 402.03 1219.51 400.2C1220.94 398.38 1222.25 396.47 1223.46 394.51C1224.68 392.55 1225.79 390.52 1226.82 388.44C1227.86 386.37 1228.79 384.24 1229.66 382.07C1230.53 379.91 1231.32 377.69 1232.06 375.45C1232.79 373.22 1233.46 370.94 1234.08 368.65C1234.71 366.37 1235.28 364.05 1235.82 361.74C1236.36 359.42 1236.86 357.09 1237.34 354.76C1237.82 352.43 1238.26 350.09 1238.68 347.75C1239.1 345.41 1239.49 343.07 1239.86 340.72C1240.22 338.37 1240.56 336.01 1240.88 333.65C1241.2 331.3 1241.49 328.93 1241.76 326.57C1242.03 324.2 1242.28 321.83 1242.52 319.46C1242.75 317.08 1242.96 314.71 1243.16 312.33C1243.36 309.95 1243.54 307.57 1243.7 305.18C1243.87 302.8 1244.02 300.41 1244.16 298.02C1244.3 295.63 1244.42 293.24 1244.54 290.85C1244.66 288.46 1244.76 286.06 1244.86 283.67C1244.96 281.28 1245.05 278.88 1245.14 276.48C1245.22 274.09 1245.3 271.69 1245.38 269.29C1245.45 266.9 1245.53 264.5 1245.6 262.1C1245.67 259.71 1245.74 257.31 1245.81 254.91C1245.89 252.52 1245.96 250.12 1246.03 247.73C1246.11 245.34 1246.19 242.94 1246.27 240.55C1246.36 238.16 1246.45 235.77 1246.55 233.38C1246.64 230.99 1246.75 228.61 1246.86 226.23C1246.98 223.84 1247.1 221.46 1247.22 219.08C1247.35 216.7 1247.49 214.32 1247.63 211.94C1247.77 209.56 1247.91 207.19 1248.06 204.81C1248.22 202.44 1248.37 200.06 1248.53 197.69C1248.7 195.32 1248.86 192.95 1249.03 190.57C1249.2 188.2 1249.38 185.83 1249.56 183.46C1249.73 181.09 1249.92 178.72 1250.1 176.35C1250.28 173.98 1250.47 171.61 1250.66 169.24C1250.84 166.87 1251.04 164.5 1251.23 162.12C1251.42 159.75 1251.61 157.38 1251.8 155.01C1252 152.64 1252.19 150.26 1252.38 147.89C1252.58 145.52 1252.77 143.14 1252.96 140.76C1253.15 138.39 1253.35 136.01 1253.54 133.63C1253.73 131.25 1253.92 128.87 1254.1 126.49C1254.29 124.11 1254.47 121.73 1254.65 119.34C1254.83 116.95 1255.01 114.57 1255.19 112.18C1255.36 109.79 1255.61 106.2 1255.7 105" stroke="#008000"/>
<path d="M1141.5 236C1141.5 237.17 1141.52 240.68 1141.52 243.03C1141.53 245.37 1141.54 247.72 1141.54 250.07C1141.55 252.42 1141.55 254.77 1141.55 257.12C1141.56 259.47 1141.56 261.83 1141.56 264.18C1141.56 266.54 1141.56 268.9 1141.56 271.26C1141.56 273.61 1141.56 275.97 1141.56 278.33C1141.56 280.69 1141.56 283.06 1141.56 285.42C1141.56 287.78 1141.55 290.15 1141.55 292.51C1141.55 294.88 1141.55 297.24 1141.54 299.61C1141.54 301.98 1141.54 304.34 1141.53 306.71C1141.53 309.08 1141.52 311.45 1141.52 313.82C1141.52 316.19 1141.51 318.56 1141.51 320.92C1141.5 323.29 1141.5 325.66 1141.49 328.03C1141.49 330.4 1141.48 332.77 1141.48 335.14C1141.47 337.51 1141.47 339.88 1141.46 342.25C1141.46 344.62 1141.46 346.99 1141.45 349.36C1141.45 351.73 1141.44 354.1 1141.44 356.46C1141.44 358.83 1141.43 361.2 1141.43 363.56C1141.43 365.93 1141.43 368.3 1141.42 370.66C1141.42 373.03 1141.42 375.39 1141.42 377.75C1141.42 380.12 1141.42 382.48 1141.42 384.84C1141.42 387.2 1141.42 389.56 1141.42 391.92C1141.42 394.28 1141.43 396.63 1141.43 398.99C1141.43 401.34 1141.44 403.7 1141.44 406.05C1141.45 408.4 1141.45 410.75 1141.46 413.1C1141.47 415.45 1141.47 417.79 1141.48 420.14C1141.49 422.48 1141.5 424.82 1141.51 427.17C1141.52 429.51 1141.53 431.84 1141.55 434.18C1141.56 436.52 1141.57 438.85 1141.59 441.18C1141.6 443.52 1141.61 445.85 1141.63 448.19C1141.64 450.52 1141.65 452.85 1141.66 455.19C1141.67 457.53 1141.68 459.86 1141.69 462.2C1141.7 464.55 1141.7 466.89 1141.71 469.23C1141.71 471.58 1141.71 473.93 1141.71 476.29C1141.7 478.64 1141.7 481 1141.69 483.37C1141.67 485.73 1141.66 488.1 1141.64 490.48C1141.62 492.86 1141.59 495.25 1141.56 497.64C1141.53 500.04 1141.5 502.44 1141.46 504.85C1141.41 507.26 1141.37 509.68 1141.31 512.11C1141.26 514.54 1141.19 516.98 1141.12 519.43C1141.05 521.88 1140.97 524.35 1140.89 526.82C1140.81 529.29 1140.68 531.79 1140.65 534.26C1140.61 536.72 1140.56 539.21 1140.67 541.61C1140.78 544.01 1140.95 546.4 1141.32 548.66C1141.7 550.93 1142.19 553.16 1142.92 555.19C1143.65 557.21 1144.55 559.15 1145.71 560.83C1146.88 562.52 1148.3 564 1149.91 565.29C1151.51 566.58 1153.38 567.63 1155.35 568.56C1157.31 569.49 1159.48 570.22 1161.69 570.85C1163.89 571.48 1166.25 571.95 1168.58 572.35C1170.91 572.75 1173.31 573.03 1175.67 573.25C1178.04 573.48 1180.41 573.62 1182.78 573.7C1185.14 573.79 1187.51 573.8 1189.88 573.76C1192.24 573.73 1194.61 573.63 1196.98 573.5C1199.34 573.38 1201.71 573.19 1204.07 572.99C1206.44 572.79 1208.8 572.54 1211.16 572.28C1213.53 572.03 1215.89 571.74 1218.25 571.45C1220.62 571.16 1222.98 570.86 1225.34 570.56C1227.7 570.26 1230.06 569.96 1232.42 569.67C1234.78 569.39 1237.14 569.11 1239.5 568.86C1241.86 568.61 1244.22 568.37 1246.58 568.18C1248.93 567.98 1251.29 567.81 1253.65 567.68C1256.01 567.54 1258.36 567.43 1260.72 567.35C1263.07 567.27 1265.43 567.22 1267.78 567.19C1270.14 567.15 1272.49 567.15 1274.84 567.16C1277.2 567.17 1279.55 567.21 1281.9 567.26C1284.26 567.32 1286.61 567.39 1288.96 567.48C1291.31 567.57 1293.67 567.67 1296.02 567.79C1298.37 567.9 1300.72 568.04 1303.08 568.18C1305.43 568.32 1307.78 568.47 1310.13 568.63C1312.48 568.79 1314.83 568.96 1317.19 569.13C1319.54 569.3 1321.89 569.48 1324.24 569.66C1326.59 569.84 1328.95 570.02 1331.3 570.21C1333.65 570.39 1336 570.57 1338.36 570.76C1340.71 570.94 1343.06 571.13 1345.41 571.32C1347.77 571.5 1350.12 571.69 1352.47 571.88C1354.82 572.07 1357.18 572.26 1359.53 572.46C1361.88 572.65 1364.23 572.85 1366.59 573.05C1368.94 573.24 1371.29 573.44 1373.64 573.65C1375.99 573.85 1378.34 574.06 1380.7 574.27C1383.05 574.48 1385.4 574.69 1387.75 574.91C1390.1 575.13 1392.45 575.35 1394.8 575.58C1397.15 575.8 1399.5 576.03 1401.84 576.27C1404.19 576.5 1406.54 576.74 1408.89 576.99C1411.24 577.23 1413.58 577.48 1415.93 577.74C1418.27 577.99 1420.62 578.25 1422.96 578.52C1425.31 578.79 1427.65 579.06 1430 579.34C1432.34 579.62 1434.68 579.9 1437.02 580.2C1439.36 580.49 1441.7 580.79 1444.04 581.1C1446.38 581.4 1448.72 581.72 1451.06 582.04C1453.39 582.36 1455.73 582.69 1458.07 583.03C1460.4 583.36 1462.74 583.71 1465.07 584.06C1467.4 584.42 1469.73 584.78 1472.06 585.15C1474.39 585.52 1476.72 585.9 1479.05 586.29C1481.38 586.68 1483.7 587.08 1486.03 587.49C1488.35 587.9 1491.84 588.54 1493 588.75" stroke="#ff0000"/>
<path d="M1141.5 566C1141.5 564.81 1141.52 561.23 1141.51 558.84C1141.5 556.45 1141.48 554.06 1141.46 551.67C1141.45 549.27 1141.42 546.88 1141.42 544.49C1141.41 542.09 1141.4 539.7 1141.43 537.31C1141.45 534.92 1141.48 532.53 1141.55 530.14C1141.62 527.76 1141.71 525.38 1141.84 523.01C1141.98 520.63 1142.14 518.26 1142.36 515.9C1142.58 513.54 1142.83 511.19 1143.16 508.85C1143.48 506.51 1143.85 504.17 1144.29 501.85C1144.73 499.53 1145.24 497.22 1145.81 494.92C1146.39 492.63 1147.03 490.34 1147.73 488.07C1148.43 485.8 1149.19 483.54 1150 481.3C1150.81 479.06 1151.68 476.83 1152.58 474.62C1153.49 472.41 1154.45 470.21 1155.45 468.03C1156.45 465.85 1157.49 463.69 1158.56 461.54C1159.63 459.4 1160.74 457.27 1161.87 455.16C1163.01 453.05 1164.17 450.96 1165.36 448.89C1166.54 446.82 1167.74 444.76 1168.97 442.73C1170.2 440.7 1171.43 438.69 1172.73 436.72C1174.03 434.75 1175.35 432.8 1176.76 430.91C1178.17 429.02 1179.63 427.16 1181.2 425.38C1182.77 423.59 1184.45 421.88 1186.19 420.2C1187.93 418.52 1189.8 416.92 1191.64 415.3C1193.47 413.68 1195.38 412.11 1197.2 410.48C1199.01 408.85 1200.85 407.23 1202.53 405.52C1204.21 403.82 1205.81 402.06 1207.28 400.23C1208.75 398.39 1210.08 396.48 1211.33 394.52C1212.57 392.55 1213.69 390.52 1214.74 388.44C1215.79 386.37 1216.72 384.23 1217.6 382.06C1218.48 379.9 1219.26 377.68 1220 375.45C1220.73 373.22 1221.39 370.94 1222.01 368.66C1222.64 366.37 1223.2 364.06 1223.74 361.75C1224.27 359.44 1224.77 357.11 1225.24 354.79C1225.72 352.46 1226.16 350.12 1226.57 347.79C1226.99 345.45 1227.38 343.11 1227.74 340.76C1228.1 338.41 1228.44 336.06 1228.76 333.7C1229.07 331.35 1229.36 328.99 1229.64 326.62C1229.91 324.26 1230.16 321.89 1230.39 319.52C1230.62 317.15 1230.83 314.77 1231.03 312.4C1231.22 310.02 1231.4 307.64 1231.56 305.26C1231.73 302.88 1231.87 300.49 1232.01 298.1C1232.15 295.72 1232.27 293.33 1232.38 290.94C1232.5 288.55 1232.6 286.15 1232.69 283.76C1232.78 281.37 1232.86 278.97 1232.94 276.58C1233.02 274.18 1233.09 271.78 1233.16 269.39C1233.22 266.99 1233.28 264.59 1233.34 262.2C1233.4 259.8 1233.46 257.4 1233.51 255.01C1233.57 252.61 1233.63 250.22 1233.68 247.82C1233.74 245.43 1233.8 243.03 1233.86 240.64C1233.92 238.25 1233.99 235.86 1234.06 233.47C1234.13 231.08 1234.21 228.69 1234.29 226.31C1234.38 223.92 1234.46 221.54 1234.56 219.15C1234.65 216.77 1234.75 214.39 1234.86 212.01C1234.96 209.63 1235.07 207.25 1235.18 204.88C1235.3 202.5 1235.42 200.12 1235.54 197.75C1235.66 195.37 1235.79 192.99 1235.92 190.62C1236.05 188.25 1236.19 185.87 1236.32 183.5C1236.46 181.12 1236.61 178.75 1236.75 176.38C1236.9 174.01 1237.04 171.63 1237.2 169.26C1237.35 166.89 1237.5 164.51 1237.66 162.14C1237.81 159.77 1237.97 157.39 1238.13 155.02C1238.29 152.64 1238.46 150.27 1238.62 147.89C1238.79 145.52 1238.95 143.14 1239.12 140.76C1239.29 138.39 1239.46 136.01 1239.63 133.63C1239.8 131.25 1239.97 128.87 1240.14 126.49C1240.31 124.1 1240.49 121.72 1240.66 119.33C1240.83 116.95 1241.01 114.56 1241.18 112.17C1241.35 109.78 1241.61 106.2 1241.7 105" stroke="#ff0000"/>
</g>
<g id="legend-1552">
<path d="M1561.1 392.2H1624.6" stroke="#000000" stroke-width="17.8" stroke-linecap="round" fill="none"/>
<text transform="translate(1633.5 401.8) scale(1 1.04)" font-size="26.5">2<tspan font-size="15.6" dy="-14.8" dx="1">nd</tspan><tspan dy="14.8"> cycle</tspan></text>
<path d="M1561.1 433H1624.6" stroke="#0000ff" stroke-width="17.8" stroke-linecap="round" fill="none"/>
<text transform="translate(1633.5 442.6) scale(1 1.04)" font-size="26.5">10<tspan font-size="15.6" dy="-14.8" dx="1">th</tspan><tspan dy="14.8"> cycle</tspan></text>
<path d="M1561.1 474.2H1624.6" stroke="#008000" stroke-width="17.8" stroke-linecap="round" fill="none"/>
<text transform="translate(1633.5 483.8) scale(1 1.04)" font-size="26.5">50<tspan font-size="15.6" dy="-14.8" dx="1">th</tspan><tspan dy="14.8"> cycle</tspan></text>
<path d="M1561.1 515.5H1624.6" stroke="#ff0000" stroke-width="17.8" stroke-linecap="round" fill="none"/>
<text transform="translate(1633.5 525.1) scale(1 1.04)" font-size="26.5">100<tspan font-size="15.6" dy="-14.8" dx="1">th</tspan><tspan dy="14.8"> cycle</tspan></text>
</g>
<g id="axes-c">
<path d="M215.5 1471.25v16.8M350.3 1471.25v16.8M485.1 1471.25v16.8M619.9 1471.25v16.8M754.7 1471.25v16.8M889.5 1471.25v16.8M282.9 1471.25v10.3M417.7 1471.25v10.3M552.5 1471.25v10.3M687.3 1471.25v10.3M822.1 1471.25v10.3M215.5 1439.5h-16M215.5 1341.46h-16M215.5 1243.42h-16M215.5 1145.38h-16M215.5 1047.33h-16M215.5 949.29h-16M215.5 851.25h-16M215.5 1390.48h-9.5M215.5 1292.44h-9.5M215.5 1194.4h-9.5M215.5 1096.35h-9.5M215.5 998.31h-9.5M215.5 900.27h-9.5" stroke="#000" stroke-width="4" fill="none"/>
<rect x="215.5" y="851.25" width="674" height="620" fill="none" stroke="#000" stroke-width="4.2"/>
<text transform="translate(214.9 1525.4) scale(1 1.07)" font-size="36.4" text-anchor="middle">0.0</text>
<text transform="translate(349.7 1525.4) scale(1 1.07)" font-size="36.4" text-anchor="middle">0.2</text>
<text transform="translate(484.5 1525.4) scale(1 1.07)" font-size="36.4" text-anchor="middle">0.4</text>
<text transform="translate(619.3 1525.4) scale(1 1.07)" font-size="36.4" text-anchor="middle">0.6</text>
<text transform="translate(754.1 1525.4) scale(1 1.07)" font-size="36.4" text-anchor="middle">0.8</text>
<text transform="translate(888.9 1525.4) scale(1 1.07)" font-size="36.4" text-anchor="middle">1.0</text>
<text transform="translate(189.5 1449) scale(1 1.07)" font-size="36.4" text-anchor="end">0.0</text>
<text transform="translate(189.5 1350.96) scale(1 1.07)" font-size="36.4" text-anchor="end">0.3</text>
<text transform="translate(189.5 1252.92) scale(1 1.07)" font-size="36.4" text-anchor="end">0.6</text>
<text transform="translate(189.5 1154.88) scale(1 1.07)" font-size="36.4" text-anchor="end">0.9</text>
<text transform="translate(189.5 1056.83) scale(1 1.07)" font-size="36.4" text-anchor="end">1.2</text>
<text transform="translate(189.5 958.79) scale(1 1.07)" font-size="36.4" text-anchor="end">1.5</text>
<text transform="translate(189.5 860.75) scale(1 1.07)" font-size="36.4" text-anchor="end">1.8</text>
<text transform="translate(210.3 1583) scale(1.003 1.03)" font-size="49.3">Specific Capacity (mAh cm<tspan font-size="29.5" font-weight="normal" fill="#777" dy="-24.2" dx="-1.2">−</tspan><tspan font-size="29.5" dy="-2.2" dx="-2">2</tspan><tspan dy="26.4" dx="1">)</tspan></text>
<text transform="translate(107.5 1328.2) rotate(-90)" font-size="51.5">Voltage (V)</text>
<text transform="translate(22.8 844.6) scale(1.03 1)" font-size="70.5">c</text>
</g>
<clipPath id="clip-c"><rect x="215" y="851.25" width="674.5" height="620"/></clipPath>
<g id="curves-c" clip-path="url(#clip-c)" fill="none" stroke-width="17.8" stroke-linecap="round" stroke-linejoin="round">
<path d="M215 897.5C215 898.68 215.01 902.2 215.01 904.55C215.01 906.91 215.02 909.26 215.02 911.61C215.03 913.96 215.03 916.31 215.03 918.66C215.04 921.01 215.04 923.36 215.04 925.71C215.05 928.06 215.05 930.41 215.06 932.76C215.06 935.11 215.06 937.47 215.07 939.82C215.07 942.17 215.08 944.52 215.08 946.87C215.08 949.22 215.09 951.57 215.09 953.92C215.1 956.27 215.1 958.62 215.11 960.97C215.11 963.32 215.12 965.66 215.12 968.01C215.13 970.36 215.13 972.71 215.14 975.06C215.14 977.41 215.15 979.76 215.15 982.11C215.16 984.46 215.16 986.81 215.17 989.16C215.17 991.51 215.18 993.86 215.18 996.21C215.19 998.56 215.2 1000.9 215.2 1003.25C215.21 1005.6 215.22 1007.95 215.22 1010.3C215.23 1012.65 215.24 1015 215.24 1017.35C215.25 1019.7 215.26 1022.05 215.26 1024.39C215.27 1026.74 215.28 1029.09 215.29 1031.44C215.29 1033.79 215.3 1036.14 215.31 1038.49C215.32 1040.84 215.33 1043.19 215.34 1045.53C215.35 1047.88 215.35 1050.23 215.36 1052.58C215.37 1054.93 215.38 1057.28 215.39 1059.63C215.4 1061.98 215.41 1064.33 215.42 1066.67C215.43 1069.02 215.44 1071.37 215.45 1073.72C215.47 1076.07 215.48 1078.42 215.49 1080.77C215.5 1083.12 215.51 1085.47 215.52 1087.82C215.54 1090.17 215.55 1092.51 215.56 1094.86C215.57 1097.21 215.59 1099.56 215.6 1101.91C215.61 1104.26 215.63 1106.61 215.64 1108.96C215.66 1111.31 215.67 1113.66 215.69 1116.01C215.7 1118.36 215.72 1120.71 215.73 1123.06C215.75 1125.41 215.76 1127.76 215.78 1130.11C215.8 1132.46 215.81 1134.81 215.83 1137.16C215.85 1139.51 215.87 1141.86 215.88 1144.21C215.9 1146.56 215.92 1148.91 215.94 1151.26C215.96 1153.61 215.98 1155.96 216 1158.31C216.02 1160.66 216.04 1163.01 216.06 1165.36C216.08 1167.71 216.1 1170.06 216.12 1172.41C216.14 1174.76 216.16 1177.11 216.19 1179.47C216.21 1181.82 216.23 1184.17 216.26 1186.52C216.28 1188.87 216.3 1191.22 216.33 1193.57C216.35 1195.93 216.38 1198.28 216.4 1200.63C216.43 1202.98 216.45 1205.33 216.48 1207.69C216.51 1210.04 216.54 1212.39 216.56 1214.74C216.59 1217.09 216.62 1219.45 216.65 1221.8C216.68 1224.15 216.71 1226.5 216.74 1228.85C216.77 1231.21 216.8 1233.56 216.84 1235.91C216.87 1238.26 216.9 1240.61 216.94 1242.97C216.97 1245.32 217.01 1247.67 217.04 1250.02C217.08 1252.37 217.12 1254.72 217.16 1257.07C217.2 1259.42 217.24 1261.77 217.28 1264.12C217.32 1266.47 217.36 1268.82 217.41 1271.17C217.45 1273.51 217.5 1275.86 217.55 1278.21C217.59 1280.56 217.64 1282.91 217.69 1285.25C217.74 1287.6 217.79 1289.94 217.85 1292.29C217.9 1294.63 217.95 1296.98 218.01 1299.32C218.07 1301.67 218.13 1304.01 218.19 1306.35C218.25 1308.69 218.31 1311.04 218.37 1313.38C218.43 1315.72 218.5 1318.06 218.57 1320.4C218.63 1322.74 218.7 1325.07 218.78 1327.41C218.85 1329.75 218.92 1332.08 219 1334.42C219.07 1336.76 219.15 1339.09 219.23 1341.42C219.31 1343.76 219.39 1346.09 219.46 1348.44C219.54 1350.78 219.61 1353.13 219.68 1355.49C219.74 1357.85 219.8 1360.22 219.85 1362.61C219.9 1365 219.94 1367.4 219.97 1369.83C219.99 1372.26 220.01 1374.72 220 1377.18C219.99 1379.63 219.95 1382.15 219.91 1384.56C219.86 1386.96 219.6 1389.58 219.72 1391.61C219.84 1393.64 219.84 1395.69 220.61 1396.73C221.38 1397.77 222.7 1397.83 224.35 1397.86C225.99 1397.9 228.26 1397.18 230.49 1396.92C232.72 1396.65 235.27 1396.38 237.7 1396.28C240.14 1396.17 242.67 1396.18 245.09 1396.29C247.52 1396.4 249.9 1396.66 252.26 1396.94C254.62 1397.21 256.94 1397.59 259.26 1397.94C261.58 1398.3 263.88 1398.7 266.2 1399.04C268.51 1399.38 270.82 1399.7 273.14 1400C275.45 1400.29 277.77 1400.55 280.09 1400.79C282.41 1401.03 284.74 1401.24 287.06 1401.43C289.39 1401.63 291.71 1401.79 294.04 1401.94C296.37 1402.09 298.71 1402.21 301.04 1402.32C303.37 1402.42 305.71 1402.51 308.05 1402.58C310.38 1402.64 312.72 1402.69 315.06 1402.73C317.4 1402.77 319.74 1402.79 322.09 1402.79C324.43 1402.8 326.78 1402.79 329.12 1402.78C331.47 1402.76 333.81 1402.73 336.16 1402.69C338.51 1402.65 340.86 1402.6 343.21 1402.55C345.56 1402.49 347.91 1402.42 350.26 1402.36C352.61 1402.29 354.97 1402.21 357.32 1402.13C359.67 1402.05 362.03 1401.97 364.38 1401.88C366.73 1401.8 369.09 1401.71 371.44 1401.63C373.8 1401.54 376.15 1401.45 378.51 1401.37C380.86 1401.29 383.22 1401.21 385.57 1401.13C387.92 1401.05 390.28 1400.98 392.63 1400.91C394.99 1400.84 397.34 1400.78 399.69 1400.73C402.05 1400.67 404.4 1400.63 406.75 1400.59C409.11 1400.55 411.46 1400.52 413.81 1400.49C416.16 1400.47 418.51 1400.45 420.86 1400.43C423.22 1400.42 425.57 1400.41 427.92 1400.41C430.27 1400.4 432.62 1400.4 434.97 1400.41C437.32 1400.42 439.67 1400.43 442.02 1400.44C444.37 1400.46 446.72 1400.47 449.06 1400.5C451.41 1400.52 453.76 1400.54 456.11 1400.57C458.46 1400.6 460.81 1400.63 463.16 1400.66C465.5 1400.69 467.85 1400.73 470.2 1400.77C472.55 1400.8 474.9 1400.84 477.24 1400.88C479.59 1400.92 481.94 1400.96 484.29 1401C486.63 1401.04 488.98 1401.08 491.33 1401.12C493.68 1401.16 496.02 1401.2 498.37 1401.24C500.72 1401.28 503.07 1401.32 505.41 1401.36C507.76 1401.4 510.11 1401.43 512.46 1401.47C514.8 1401.5 517.15 1401.53 519.5 1401.56C521.85 1401.59 524.2 1401.62 526.54 1401.64C528.89 1401.67 531.24 1401.69 533.59 1401.71C535.94 1401.72 538.28 1401.74 540.63 1401.75C542.98 1401.76 545.33 1401.77 547.68 1401.77C550.03 1401.78 552.38 1401.78 554.72 1401.78C557.07 1401.78 559.42 1401.77 561.77 1401.77C564.12 1401.76 566.47 1401.75 568.82 1401.74C571.17 1401.73 573.52 1401.72 575.87 1401.7C578.22 1401.68 580.57 1401.67 582.92 1401.65C585.27 1401.63 587.62 1401.61 589.97 1401.59C592.31 1401.56 594.66 1401.54 597.01 1401.51C599.36 1401.49 601.71 1401.46 604.06 1401.43C606.41 1401.4 608.76 1401.37 611.12 1401.34C613.47 1401.31 615.82 1401.28 618.17 1401.25C620.52 1401.22 622.87 1401.19 625.22 1401.15C627.57 1401.12 629.92 1401.09 632.27 1401.05C634.62 1401.02 636.97 1400.98 639.32 1400.95C641.67 1400.92 644.02 1400.88 646.37 1400.85C648.72 1400.81 651.07 1400.78 653.42 1400.75C655.77 1400.71 658.12 1400.68 660.47 1400.65C662.82 1400.62 665.18 1400.58 667.53 1400.55C669.88 1400.52 672.23 1400.49 674.58 1400.46C676.93 1400.43 679.28 1400.41 681.63 1400.38C683.98 1400.35 686.33 1400.33 688.68 1400.3C691.03 1400.28 693.38 1400.26 695.73 1400.24C698.08 1400.22 700.43 1400.2 702.78 1400.18C705.13 1400.16 707.48 1400.15 709.83 1400.14C712.18 1400.12 714.53 1400.11 716.89 1400.1C719.24 1400.1 721.59 1400.09 723.94 1400.09C726.29 1400.08 728.64 1400.08 730.99 1400.09C733.34 1400.09 735.69 1400.09 738.04 1400.1C740.38 1400.11 742.73 1400.12 745.08 1400.14C747.43 1400.15 749.78 1400.17 752.13 1400.19C754.48 1400.21 756.83 1400.24 759.18 1400.27C761.53 1400.3 763.88 1400.33 766.23 1400.36C768.58 1400.4 770.93 1400.44 773.28 1400.49C775.62 1400.53 777.97 1400.58 780.32 1400.63C782.67 1400.69 785.02 1400.74 787.37 1400.81C789.72 1400.87 792.06 1400.94 794.41 1401.01C796.76 1401.08 799.11 1401.16 801.46 1401.24C803.8 1401.32 807.33 1401.46 808.5 1401.5" stroke="#ff0000"/>
<path d="M216 1400C216.07 1398.93 216.35 1395.84 216.4 1393.56C216.45 1391.27 216.35 1388.79 216.29 1386.3C216.23 1383.8 216.09 1381.17 216.06 1378.59C216.03 1376.02 215.98 1373.37 216.1 1370.83C216.23 1368.29 216.41 1365.75 216.79 1363.38C217.18 1361 217.68 1358.68 218.42 1356.59C219.16 1354.49 220.07 1352.52 221.23 1350.81C222.39 1349.09 223.79 1347.58 225.38 1346.29C226.97 1344.99 228.81 1343.95 230.77 1343.05C232.74 1342.15 234.93 1341.5 237.16 1340.9C239.4 1340.3 241.8 1339.88 244.19 1339.44C246.57 1339 249.05 1338.67 251.47 1338.27C253.9 1337.87 256.32 1337.48 258.72 1337.06C261.13 1336.64 263.51 1336.21 265.89 1335.76C268.27 1335.31 270.63 1334.85 272.99 1334.38C275.35 1333.91 277.69 1333.42 280.03 1332.93C282.36 1332.44 284.69 1331.93 287.01 1331.42C289.33 1330.91 291.64 1330.38 293.95 1329.86C296.26 1329.33 298.56 1328.79 300.86 1328.25C303.16 1327.71 305.46 1327.17 307.75 1326.62C310.04 1326.07 312.33 1325.52 314.62 1324.96C316.91 1324.41 319.2 1323.85 321.49 1323.3C323.78 1322.74 326.07 1322.18 328.37 1321.63C330.66 1321.07 332.96 1320.52 335.26 1319.97C337.56 1319.41 339.86 1318.87 342.17 1318.32C344.48 1317.76 346.79 1317.21 349.1 1316.66C351.4 1316.1 353.72 1315.54 356.03 1314.97C358.33 1314.39 360.64 1313.82 362.95 1313.22C365.25 1312.63 367.56 1312.02 369.86 1311.4C372.15 1310.77 374.45 1310.14 376.74 1309.48C379.03 1308.82 381.31 1308.13 383.59 1307.44C385.87 1306.75 388.14 1306.04 390.41 1305.32C392.69 1304.61 394.95 1303.89 397.22 1303.17C399.49 1302.45 401.76 1301.72 404.03 1301.01C406.3 1300.3 408.56 1299.59 410.84 1298.9C413.11 1298.21 415.38 1297.53 417.66 1296.88C419.94 1296.22 422.22 1295.59 424.51 1294.97C426.8 1294.35 429.09 1293.75 431.38 1293.17C433.68 1292.59 435.97 1292.02 438.27 1291.47C440.57 1290.92 442.88 1290.39 445.18 1289.86C447.49 1289.34 449.8 1288.83 452.11 1288.33C454.43 1287.83 456.74 1287.34 459.06 1286.86C461.38 1286.38 463.7 1285.91 466.02 1285.45C468.34 1284.99 470.66 1284.54 472.99 1284.09C475.32 1283.64 477.64 1283.2 479.97 1282.76C482.3 1282.32 484.64 1281.88 486.97 1281.45C489.3 1281.01 491.63 1280.58 493.97 1280.15C496.31 1279.72 498.64 1279.29 500.98 1278.86C503.32 1278.43 505.66 1278 507.99 1277.56C510.33 1277.12 512.67 1276.68 515.01 1276.24C517.35 1275.8 519.69 1275.35 522.02 1274.9C524.36 1274.45 526.7 1273.99 529.03 1273.53C531.36 1273.06 533.7 1272.59 536.03 1272.11C538.36 1271.64 540.69 1271.15 543.02 1270.66C545.34 1270.16 547.67 1269.66 549.99 1269.14C552.31 1268.63 554.63 1268.1 556.94 1267.56C559.25 1267.03 561.56 1266.48 563.87 1265.92C566.18 1265.36 568.48 1264.78 570.77 1264.19C573.07 1263.6 575.36 1263 577.65 1262.38C579.94 1261.76 582.22 1261.13 584.49 1260.48C586.77 1259.82 589.04 1259.16 591.3 1258.47C593.56 1257.78 595.82 1257.08 598.06 1256.36C600.31 1255.63 602.55 1254.89 604.79 1254.12C607.02 1253.36 609.25 1252.58 611.46 1251.77C613.68 1250.96 615.89 1250.13 618.09 1249.28C620.29 1248.43 622.48 1247.55 624.67 1246.65C626.85 1245.75 629.02 1244.83 631.18 1243.88C633.35 1242.93 635.5 1241.95 637.64 1240.95C639.78 1239.94 641.92 1238.91 644.04 1237.85C646.16 1236.79 648.27 1235.7 650.36 1234.59C652.46 1233.47 654.55 1232.32 656.62 1231.14C658.69 1229.96 660.76 1228.75 662.8 1227.51C664.85 1226.27 666.89 1225 668.9 1223.7C670.92 1222.4 672.92 1221.07 674.9 1219.71C676.87 1218.35 678.83 1216.97 680.77 1215.56C682.71 1214.15 684.62 1212.71 686.51 1211.25C688.4 1209.79 690.26 1208.3 692.09 1206.79C693.93 1205.28 695.73 1203.75 697.51 1202.2C699.28 1200.64 701.02 1199.07 702.73 1197.46C704.44 1195.86 706.12 1194.23 707.76 1192.56C709.4 1190.89 711 1189.2 712.57 1187.46C714.14 1185.73 715.67 1183.96 717.16 1182.15C718.65 1180.33 720.1 1178.48 721.51 1176.58C722.91 1174.69 724.28 1172.75 725.6 1170.77C726.92 1168.79 728.19 1166.77 729.42 1164.72C730.64 1162.68 731.82 1160.59 732.94 1158.48C734.06 1156.36 735.13 1154.22 736.15 1152.05C737.16 1149.88 738.12 1147.68 739.02 1145.46C739.91 1143.25 740.75 1141.01 741.53 1138.75C742.3 1136.5 743.02 1134.22 743.66 1131.93C744.31 1129.65 744.89 1127.35 745.4 1125.04C745.91 1122.73 746.35 1120.41 746.72 1118.08C747.09 1115.76 747.45 1112.26 747.6 1111.1" stroke="#ff0000"/>
</g>
<text transform="translate(695.8 1082.6) scale(1 1.04)" font-size="31.1" fill="#e60012">ICE = 91.1%</text>
<path d="M757.3 1106.9L773.8 1098.2L769.5 1105.25L800.8 1105.25L796.5 1098.2L813 1106.9L796.5 1115.6L800.8 1108.55L769.5 1108.55L773.8 1115.6Z" fill="#e60012"/>
<g id="axes-d">
<path d="M1143.5 1467.75v16.8M1265.5 1467.75v16.8M1387.5 1467.75v16.8M1509.5 1467.75v16.8M1631.5 1467.75v16.8M1753.5 1467.75v16.8M1204.5 1467.75v10.3M1326.5 1467.75v10.3M1448.5 1467.75v10.3M1570.5 1467.75v10.3M1692.5 1467.75v10.3M1814.5 1467.75v10.3M1143.5 1467.75h-16M1143.5 1355.09h-16M1143.5 1242.43h-16M1143.5 1129.77h-16M1143.5 1017.11h-16M1143.5 904.45h-16M1143.5 1411.42h-9.5M1143.5 1298.76h-9.5M1143.5 1186.1h-9.5M1143.5 1073.44h-9.5M1143.5 960.78h-9.5M1143.5 848.12h-9.5" stroke="#000" stroke-width="4" fill="none"/>
<rect x="1143.5" y="848.75" width="671.5" height="619" fill="none" stroke="#000" stroke-width="4.2"/>
<text transform="translate(1142.9 1521.4) scale(1 1.07)" font-size="36.4" text-anchor="middle">0.0</text>
<text transform="translate(1264.9 1521.4) scale(1 1.07)" font-size="36.4" text-anchor="middle">0.1</text>
<text transform="translate(1386.9 1521.4) scale(1 1.07)" font-size="36.4" text-anchor="middle">0.2</text>
<text transform="translate(1508.9 1521.4) scale(1 1.07)" font-size="36.4" text-anchor="middle">0.3</text>
<text transform="translate(1630.9 1521.4) scale(1 1.07)" font-size="36.4" text-anchor="middle">0.4</text>
<text transform="translate(1752.9 1521.4) scale(1 1.07)" font-size="36.4" text-anchor="middle">0.5</text>
<text transform="translate(1119 1479.55) scale(1 1.07)" font-size="36.4" text-anchor="end">0.0</text>
<text transform="translate(1119 1366.89) scale(1 1.07)" font-size="36.4" text-anchor="end">0.2</text>
<text transform="translate(1119 1254.23) scale(1 1.07)" font-size="36.4" text-anchor="end">0.4</text>
<text transform="translate(1119 1141.57) scale(1 1.07)" font-size="36.4" text-anchor="end">0.6</text>
<text transform="translate(1119 1028.91) scale(1 1.07)" font-size="36.4" text-anchor="end">0.8</text>
<text transform="translate(1119 916.25) scale(1 1.07)" font-size="36.4" text-anchor="end">1.0</text>
<text transform="translate(1139.3 1584.2) scale(0.999 1.03)" font-size="49.3">Specific Capacity (mAh cm<tspan font-size="29.5" font-weight="normal" fill="#777" dy="-24.2" dx="-1.2">−</tspan><tspan font-size="29.5" dy="-2.2" dx="-2">2</tspan><tspan dy="26.4" dx="1">)</tspan></text>
<text transform="translate(1035.5 1323.2) rotate(-90)" font-size="51.5">Voltage (V)</text>
<text transform="translate(942.5 843.3) scale(1.07 1)" font-size="70.5">d</text>
</g>
<clipPath id="clip-d"><rect x="1143" y="848.75" width="672" height="619"/></clipPath>
<g id="curves-d" clip-path="url(#clip-d)" fill="none" stroke-width="17.8" stroke-linecap="round" stroke-linejoin="round">
<path d="M1143.5 997.5C1143.53 998.67 1143.65 1002.19 1143.71 1004.55C1143.77 1006.9 1143.82 1009.25 1143.86 1011.61C1143.9 1013.97 1143.93 1016.33 1143.95 1018.7C1143.96 1021.06 1143.97 1023.42 1143.98 1025.79C1143.98 1028.16 1143.97 1030.53 1143.96 1032.9C1143.95 1035.28 1143.93 1037.65 1143.9 1040.02C1143.88 1042.4 1143.85 1044.78 1143.82 1047.16C1143.79 1049.53 1143.75 1051.91 1143.71 1054.29C1143.67 1056.67 1143.63 1059.05 1143.58 1061.44C1143.54 1063.82 1143.49 1066.2 1143.45 1068.58C1143.4 1070.96 1143.36 1073.34 1143.31 1075.73C1143.27 1078.11 1143.23 1080.49 1143.18 1082.87C1143.14 1085.25 1143.11 1087.63 1143.07 1090.01C1143.04 1092.39 1143 1094.77 1142.98 1097.15C1142.95 1099.53 1142.93 1101.9 1142.92 1104.28C1142.9 1106.65 1142.89 1109.03 1142.89 1111.4C1142.89 1113.77 1142.9 1116.14 1142.91 1118.51C1142.93 1120.88 1142.95 1123.24 1142.99 1125.6C1143.02 1127.97 1143.06 1130.33 1143.12 1132.68C1143.17 1135.04 1143.24 1137.4 1143.32 1139.75C1143.4 1142.1 1143.49 1144.46 1143.6 1146.8C1143.7 1149.15 1143.82 1151.5 1143.96 1153.85C1144.09 1156.19 1144.24 1158.53 1144.41 1160.88C1144.58 1163.22 1144.76 1165.56 1144.97 1167.9C1145.17 1170.24 1145.39 1172.57 1145.63 1174.91C1145.87 1177.24 1146.13 1179.58 1146.41 1181.91C1146.69 1184.24 1146.99 1186.58 1147.31 1188.91C1147.63 1191.24 1147.98 1193.57 1148.34 1195.9C1148.71 1198.23 1149.1 1200.55 1149.52 1202.88C1149.93 1205.21 1150.37 1207.54 1150.84 1209.86C1151.31 1212.19 1151.8 1214.51 1152.32 1216.84C1152.84 1219.17 1153.39 1221.49 1153.96 1223.82C1154.54 1226.14 1155.14 1228.47 1155.78 1230.79C1156.41 1233.11 1157.08 1235.44 1157.78 1237.75C1158.48 1240.06 1159.21 1242.36 1159.98 1244.65C1160.76 1246.94 1161.57 1249.22 1162.42 1251.47C1163.27 1253.73 1164.16 1255.97 1165.1 1258.17C1166.04 1260.38 1167.02 1262.57 1168.05 1264.73C1169.08 1266.88 1170.16 1269.01 1171.29 1271.09C1172.42 1273.18 1173.59 1275.24 1174.83 1277.24C1176.07 1279.24 1177.36 1281.2 1178.73 1283.08C1180.1 1284.97 1181.52 1286.8 1183.03 1288.53C1184.54 1290.25 1186.12 1291.91 1187.79 1293.46C1189.46 1295 1191.21 1296.46 1193.03 1297.8C1194.85 1299.15 1196.75 1300.4 1198.71 1301.55C1200.66 1302.7 1202.69 1303.75 1204.77 1304.69C1206.84 1305.64 1208.98 1306.47 1211.16 1307.23C1213.34 1307.98 1215.57 1308.63 1217.83 1309.22C1220.09 1309.81 1222.4 1310.3 1224.73 1310.76C1227.06 1311.21 1229.43 1311.59 1231.81 1311.94C1234.19 1312.29 1236.6 1312.58 1239.01 1312.86C1241.42 1313.14 1243.86 1313.37 1246.29 1313.61C1248.71 1313.85 1251.15 1314.06 1253.58 1314.28C1256 1314.51 1258.43 1314.73 1260.84 1314.97C1263.25 1315.21 1265.64 1315.47 1268.03 1315.74C1270.41 1316.01 1272.79 1316.29 1275.15 1316.58C1277.52 1316.88 1279.88 1317.18 1282.23 1317.49C1284.58 1317.8 1286.92 1318.12 1289.26 1318.43C1291.6 1318.75 1293.94 1319.08 1296.27 1319.4C1298.61 1319.72 1300.93 1320.05 1303.27 1320.37C1305.6 1320.69 1307.93 1321.01 1310.26 1321.33C1312.59 1321.64 1314.93 1321.95 1317.26 1322.25C1319.6 1322.56 1321.93 1322.86 1324.27 1323.16C1326.61 1323.45 1328.95 1323.75 1331.29 1324.03C1333.63 1324.32 1335.97 1324.61 1338.31 1324.89C1340.66 1325.17 1343 1325.45 1345.35 1325.72C1347.69 1326 1350.04 1326.27 1352.38 1326.54C1354.73 1326.81 1357.08 1327.07 1359.43 1327.34C1361.78 1327.6 1364.13 1327.86 1366.48 1328.12C1368.83 1328.38 1371.18 1328.64 1373.53 1328.89C1375.88 1329.15 1378.24 1329.4 1380.59 1329.66C1382.94 1329.91 1385.3 1330.16 1387.65 1330.41C1390.01 1330.66 1392.36 1330.9 1394.72 1331.15C1397.07 1331.4 1399.43 1331.65 1401.79 1331.89C1404.14 1332.14 1406.5 1332.38 1408.86 1332.63C1411.22 1332.87 1413.57 1333.12 1415.93 1333.37C1418.29 1333.61 1420.65 1333.86 1423.01 1334.1C1425.36 1334.35 1427.72 1334.59 1430.08 1334.84C1432.44 1335.09 1434.8 1335.34 1437.16 1335.59C1439.52 1335.84 1441.88 1336.09 1444.24 1336.34C1446.6 1336.59 1448.95 1336.84 1451.31 1337.1C1453.67 1337.35 1456.03 1337.61 1458.39 1337.87C1460.75 1338.13 1463.11 1338.39 1465.46 1338.65C1467.82 1338.91 1470.18 1339.18 1472.54 1339.45C1474.89 1339.72 1477.25 1339.99 1479.61 1340.26C1481.96 1340.54 1484.32 1340.81 1486.68 1341.09C1489.03 1341.37 1491.39 1341.66 1493.74 1341.95C1496.1 1342.23 1498.45 1342.52 1500.8 1342.82C1503.16 1343.12 1505.51 1343.42 1507.86 1343.72C1510.21 1344.02 1512.56 1344.33 1514.91 1344.64C1517.27 1344.96 1519.61 1345.27 1521.96 1345.6C1524.31 1345.92 1526.66 1346.25 1529.01 1346.58C1531.35 1346.91 1533.7 1347.25 1536.04 1347.6C1538.39 1347.94 1540.73 1348.29 1543.07 1348.64C1545.42 1349 1547.76 1349.36 1550.1 1349.73C1552.44 1350.1 1554.78 1350.47 1557.12 1350.85C1559.45 1351.22 1561.79 1351.61 1564.13 1351.99C1566.46 1352.38 1568.8 1352.77 1571.14 1353.17C1573.47 1353.57 1575.8 1353.97 1578.14 1354.37C1580.47 1354.77 1582.8 1355.18 1585.14 1355.59C1587.47 1356 1589.8 1356.41 1592.13 1356.83C1594.46 1357.24 1596.79 1357.66 1599.12 1358.08C1601.45 1358.5 1603.78 1358.92 1606.11 1359.35C1608.44 1359.77 1610.77 1360.2 1613.1 1360.62C1615.43 1361.05 1617.76 1361.48 1620.08 1361.9C1622.41 1362.33 1624.74 1362.76 1627.07 1363.19C1629.4 1363.62 1631.73 1364.04 1634.05 1364.47C1636.38 1364.9 1638.71 1365.33 1641.04 1365.75C1643.37 1366.18 1645.7 1366.61 1648.03 1367.03C1650.35 1367.45 1652.68 1367.88 1655.01 1368.3C1657.34 1368.72 1659.67 1369.14 1662 1369.55C1664.33 1369.97 1666.66 1370.38 1668.99 1370.79C1671.33 1371.2 1673.66 1371.61 1675.99 1372.01C1678.32 1372.42 1680.66 1372.82 1682.99 1373.21C1685.32 1373.61 1687.66 1374 1689.99 1374.39C1692.33 1374.78 1694.66 1375.16 1697 1375.54C1699.34 1375.92 1701.67 1376.29 1704.01 1376.66C1706.35 1377.03 1708.69 1377.39 1711.03 1377.75C1713.37 1378.1 1715.71 1378.45 1718.06 1378.8C1720.4 1379.14 1722.74 1379.48 1725.09 1379.81C1727.43 1380.14 1729.78 1380.46 1732.13 1380.78C1734.48 1381.09 1736.83 1381.4 1739.18 1381.7C1741.53 1382 1743.88 1382.3 1746.23 1382.58C1748.59 1382.86 1752.12 1383.27 1753.3 1383.4" stroke="#000000"/>
<path d="M1143.5 1340C1143.5 1338.8 1143.42 1335.2 1143.52 1332.81C1143.62 1330.42 1143.81 1328.04 1144.08 1325.68C1144.36 1323.32 1144.73 1320.97 1145.17 1318.64C1145.62 1316.3 1146.15 1313.99 1146.75 1311.7C1147.36 1309.41 1148.05 1307.13 1148.81 1304.89C1149.57 1302.65 1150.42 1300.42 1151.32 1298.24C1152.23 1296.05 1153.21 1293.89 1154.26 1291.76C1155.31 1289.64 1156.42 1287.54 1157.6 1285.49C1158.78 1283.44 1160.02 1281.42 1161.32 1279.45C1162.62 1277.47 1163.99 1275.54 1165.4 1273.65C1166.82 1271.76 1168.29 1269.92 1169.81 1268.13C1171.34 1266.34 1172.91 1264.59 1174.53 1262.9C1176.16 1261.21 1177.83 1259.58 1179.54 1258C1181.25 1256.42 1183.01 1254.9 1184.81 1253.43C1186.61 1251.95 1188.45 1250.54 1190.32 1249.17C1192.2 1247.8 1194.11 1246.48 1196.06 1245.2C1198 1243.92 1199.98 1242.69 1201.99 1241.5C1204 1240.31 1206.04 1239.17 1208.11 1238.05C1210.17 1236.94 1212.27 1235.87 1214.38 1234.83C1216.5 1233.79 1218.64 1232.78 1220.8 1231.81C1222.95 1230.83 1225.13 1229.89 1227.33 1228.97C1229.52 1228.05 1231.73 1227.16 1233.95 1226.29C1236.18 1225.41 1238.41 1224.57 1240.66 1223.74C1242.9 1222.91 1245.16 1222.11 1247.42 1221.31C1249.68 1220.52 1251.95 1219.74 1254.22 1218.98C1256.48 1218.21 1258.76 1217.46 1261.03 1216.71C1263.3 1215.96 1265.57 1215.23 1267.84 1214.5C1270.11 1213.77 1272.38 1213.06 1274.66 1212.34C1276.93 1211.63 1279.2 1210.93 1281.47 1210.24C1283.75 1209.54 1286.02 1208.85 1288.29 1208.17C1290.57 1207.49 1292.84 1206.82 1295.11 1206.15C1297.39 1205.48 1299.66 1204.82 1301.93 1204.16C1304.21 1203.5 1306.48 1202.85 1308.76 1202.21C1311.03 1201.56 1313.31 1200.92 1315.58 1200.28C1317.86 1199.64 1320.13 1199.01 1322.41 1198.38C1324.68 1197.75 1326.96 1197.12 1329.23 1196.5C1331.51 1195.88 1333.78 1195.26 1336.06 1194.64C1338.33 1194.02 1340.61 1193.4 1342.88 1192.79C1345.16 1192.17 1347.43 1191.56 1349.71 1190.95C1351.98 1190.33 1354.26 1189.72 1356.53 1189.11C1358.81 1188.5 1361.08 1187.89 1363.36 1187.27C1365.63 1186.66 1367.9 1186.05 1370.18 1185.44C1372.45 1184.82 1374.73 1184.21 1377 1183.59C1379.28 1182.98 1381.55 1182.36 1383.82 1181.74C1386.1 1181.12 1388.37 1180.49 1390.64 1179.87C1392.92 1179.24 1395.19 1178.61 1397.46 1177.98C1399.74 1177.35 1402.01 1176.71 1404.28 1176.07C1406.55 1175.43 1408.83 1174.78 1411.1 1174.13C1413.37 1173.48 1415.64 1172.83 1417.91 1172.16C1420.18 1171.5 1422.45 1170.84 1424.72 1170.16C1426.99 1169.49 1429.26 1168.81 1431.53 1168.12C1433.8 1167.44 1436.07 1166.74 1438.34 1166.04C1440.61 1165.34 1442.87 1164.63 1445.14 1163.92C1447.41 1163.2 1449.68 1162.47 1451.94 1161.74C1454.21 1161.01 1456.47 1160.26 1458.74 1159.52C1461 1158.77 1463.27 1158.02 1465.53 1157.27C1467.8 1156.53 1470.06 1155.77 1472.32 1155.03C1474.59 1154.29 1476.85 1153.55 1479.11 1152.81C1481.37 1152.08 1483.63 1151.36 1485.89 1150.63C1488.14 1149.9 1490.4 1149.18 1492.64 1148.45C1494.89 1147.72 1497.13 1146.99 1499.36 1146.24C1501.59 1145.49 1503.81 1144.73 1506.02 1143.95C1508.23 1143.17 1510.43 1142.38 1512.62 1141.56C1514.8 1140.74 1516.98 1139.9 1519.15 1139.04C1521.31 1138.17 1523.47 1137.28 1525.61 1136.36C1527.75 1135.44 1529.88 1134.49 1532.01 1133.52C1534.14 1132.55 1536.25 1131.56 1538.37 1130.55C1540.49 1129.55 1542.6 1128.52 1544.72 1127.49C1546.83 1126.46 1548.95 1125.42 1551.07 1124.37C1553.18 1123.32 1555.31 1122.26 1557.42 1121.19C1559.54 1120.12 1561.66 1119.04 1563.77 1117.94C1565.88 1116.85 1568 1115.75 1570.1 1114.62C1572.2 1113.5 1574.31 1112.37 1576.4 1111.22C1578.49 1110.07 1580.57 1108.91 1582.65 1107.73C1584.72 1106.55 1586.79 1105.35 1588.84 1104.14C1590.9 1102.93 1592.94 1101.7 1594.97 1100.44C1597 1099.19 1599.02 1097.92 1601.02 1096.63C1603.02 1095.34 1605 1094.03 1606.97 1092.7C1608.94 1091.37 1610.89 1090.02 1612.82 1088.64C1614.75 1087.26 1616.66 1085.86 1618.55 1084.44C1620.44 1083.01 1622.31 1081.57 1624.15 1080.09C1625.99 1078.62 1627.82 1077.12 1629.61 1075.59C1631.4 1074.06 1633.17 1072.51 1634.91 1070.93C1636.65 1069.35 1638.37 1067.74 1640.06 1066.1C1641.74 1064.47 1643.4 1062.8 1645.04 1061.11C1646.67 1059.43 1648.28 1057.71 1649.86 1055.97C1651.44 1054.23 1652.99 1052.47 1654.52 1050.68C1656.05 1048.9 1657.55 1047.09 1659.02 1045.25C1660.49 1043.42 1661.94 1041.57 1663.36 1039.69C1664.79 1037.82 1666.18 1035.92 1667.55 1034C1668.92 1032.08 1670.26 1030.14 1671.58 1028.19C1672.9 1026.23 1674.19 1024.25 1675.46 1022.26C1676.72 1020.26 1677.96 1018.25 1679.18 1016.22C1680.39 1014.19 1681.58 1012.14 1682.75 1010.08C1683.91 1008.02 1685.05 1005.94 1686.16 1003.85C1687.28 1001.75 1688.37 999.64 1689.43 997.52C1690.49 995.4 1691.53 993.26 1692.54 991.11C1693.56 988.96 1694.55 986.8 1695.51 984.63C1696.47 982.45 1697.41 980.27 1698.33 978.07C1699.24 975.87 1700.13 973.66 1701 971.45C1701.86 969.23 1702.7 967 1703.52 964.77C1704.34 962.53 1705.13 960.29 1705.9 958.04C1706.67 955.79 1707.41 953.53 1708.13 951.26C1708.85 949 1709.55 946.72 1710.22 944.45C1710.9 942.17 1711.54 939.89 1712.17 937.6C1712.79 935.31 1713.4 933.02 1713.97 930.73C1714.55 928.43 1715.11 926.13 1715.64 923.83C1716.17 921.53 1716.68 919.23 1717.16 916.93C1717.65 914.62 1718.11 912.32 1718.55 910.01C1718.99 907.71 1719.59 904.25 1719.8 903.1" stroke="#000000"/>
<path d="M1143.5 989C1143.55 990.18 1143.71 993.71 1143.8 996.07C1143.88 998.42 1143.95 1000.78 1144.01 1003.14C1144.07 1005.5 1144.12 1007.86 1144.16 1010.22C1144.19 1012.58 1144.21 1014.94 1144.23 1017.3C1144.25 1019.67 1144.25 1022.03 1144.25 1024.39C1144.24 1026.76 1144.23 1029.12 1144.21 1031.49C1144.19 1033.86 1144.16 1036.22 1144.13 1038.59C1144.1 1040.96 1144.06 1043.32 1144.02 1045.69C1143.98 1048.06 1143.93 1050.43 1143.88 1052.8C1143.83 1055.16 1143.77 1057.53 1143.72 1059.9C1143.66 1062.27 1143.61 1064.64 1143.55 1067.01C1143.49 1069.38 1143.43 1071.75 1143.37 1074.11C1143.32 1076.48 1143.26 1078.85 1143.21 1081.22C1143.15 1083.59 1143.1 1085.96 1143.05 1088.33C1143 1090.69 1142.95 1093.06 1142.91 1095.43C1142.87 1097.79 1142.84 1100.16 1142.81 1102.53C1142.78 1104.89 1142.75 1107.26 1142.74 1109.62C1142.72 1111.99 1142.71 1114.35 1142.71 1116.71C1142.71 1119.07 1142.72 1121.44 1142.74 1123.8C1142.76 1126.16 1142.79 1128.52 1142.83 1130.88C1142.87 1133.23 1142.92 1135.59 1142.98 1137.95C1143.05 1140.3 1143.13 1142.66 1143.22 1145.01C1143.31 1147.37 1143.41 1149.72 1143.54 1152.07C1143.66 1154.42 1143.79 1156.77 1143.95 1159.12C1144.1 1161.46 1144.27 1163.81 1144.46 1166.15C1144.65 1168.5 1144.85 1170.84 1145.08 1173.18C1145.3 1175.52 1145.55 1177.86 1145.81 1180.2C1146.08 1182.53 1146.37 1184.87 1146.68 1187.2C1146.99 1189.53 1147.31 1191.86 1147.67 1194.19C1148.02 1196.52 1148.4 1198.84 1148.8 1201.17C1149.21 1203.49 1149.63 1205.81 1150.09 1208.13C1150.54 1210.45 1151.02 1212.76 1151.53 1215.08C1152.03 1217.39 1152.57 1219.7 1153.13 1222C1153.69 1224.31 1154.29 1226.61 1154.91 1228.91C1155.54 1231.2 1156.19 1233.49 1156.88 1235.78C1157.57 1238.06 1158.29 1240.34 1159.05 1242.61C1159.81 1244.87 1160.6 1247.14 1161.43 1249.39C1162.26 1251.64 1163.12 1253.88 1164.03 1256.11C1164.94 1258.34 1165.88 1260.57 1166.87 1262.75C1167.87 1264.94 1168.9 1267.11 1170 1269.22C1171.1 1271.33 1172.25 1273.42 1173.47 1275.42C1174.69 1277.42 1175.97 1279.38 1177.33 1281.24C1178.69 1283.1 1180.11 1284.9 1181.63 1286.59C1183.14 1288.28 1184.73 1289.88 1186.42 1291.36C1188.11 1292.84 1189.89 1294.21 1191.75 1295.46C1193.62 1296.72 1195.58 1297.84 1197.61 1298.88C1199.63 1299.92 1201.74 1300.85 1203.89 1301.71C1206.04 1302.57 1208.27 1303.33 1210.52 1304.04C1212.76 1304.75 1215.07 1305.37 1217.38 1305.96C1219.69 1306.55 1222.04 1307.07 1224.39 1307.57C1226.73 1308.07 1229.09 1308.53 1231.45 1308.97C1233.8 1309.4 1236.16 1309.81 1238.51 1310.2C1240.87 1310.58 1243.22 1310.95 1245.57 1311.29C1247.93 1311.64 1250.28 1311.96 1252.64 1312.27C1254.99 1312.58 1257.35 1312.87 1259.7 1313.16C1262.06 1313.44 1264.41 1313.71 1266.76 1313.98C1269.12 1314.24 1271.47 1314.5 1273.83 1314.75C1276.18 1315 1278.53 1315.25 1280.89 1315.5C1283.24 1315.75 1285.59 1315.99 1287.94 1316.24C1290.3 1316.49 1292.65 1316.74 1295 1316.99C1297.35 1317.24 1299.7 1317.49 1302.05 1317.74C1304.41 1317.99 1306.76 1318.24 1309.11 1318.49C1311.46 1318.75 1313.81 1319 1316.16 1319.25C1318.51 1319.5 1320.86 1319.76 1323.21 1320.01C1325.56 1320.27 1327.9 1320.52 1330.25 1320.78C1332.6 1321.03 1334.95 1321.29 1337.3 1321.55C1339.65 1321.8 1342 1322.06 1344.34 1322.32C1346.69 1322.58 1349.04 1322.84 1351.39 1323.1C1353.74 1323.36 1356.08 1323.62 1358.43 1323.88C1360.78 1324.14 1363.13 1324.4 1365.47 1324.67C1367.82 1324.93 1370.17 1325.19 1372.51 1325.46C1374.86 1325.72 1377.21 1325.99 1379.55 1326.25C1381.9 1326.52 1384.24 1326.79 1386.59 1327.05C1388.94 1327.32 1391.28 1327.59 1393.63 1327.86C1395.97 1328.13 1398.32 1328.4 1400.67 1328.67C1403.01 1328.94 1405.36 1329.22 1407.7 1329.49C1410.05 1329.76 1412.39 1330.04 1414.74 1330.31C1417.08 1330.59 1419.43 1330.86 1421.77 1331.14C1424.12 1331.42 1426.46 1331.69 1428.81 1331.97C1431.15 1332.25 1433.5 1332.53 1435.84 1332.81C1438.19 1333.09 1440.53 1333.37 1442.88 1333.66C1445.22 1333.94 1447.57 1334.22 1449.91 1334.51C1452.26 1334.79 1454.6 1335.08 1456.95 1335.37C1459.29 1335.65 1461.64 1335.94 1463.98 1336.23C1466.33 1336.52 1468.68 1336.81 1471.02 1337.1C1473.37 1337.39 1475.71 1337.68 1478.06 1337.98C1480.4 1338.27 1482.75 1338.57 1485.09 1338.86C1487.44 1339.16 1489.78 1339.45 1492.13 1339.75C1494.47 1340.05 1496.82 1340.35 1499.17 1340.65C1501.51 1340.95 1503.86 1341.25 1506.2 1341.56C1508.55 1341.86 1510.9 1342.16 1513.24 1342.47C1515.59 1342.78 1517.93 1343.08 1520.28 1343.4C1522.62 1343.71 1524.97 1344.02 1527.31 1344.34C1529.66 1344.66 1532 1344.99 1534.35 1345.32C1536.69 1345.64 1539.03 1345.98 1541.37 1346.32C1543.71 1346.66 1546.05 1347 1548.39 1347.36C1550.73 1347.71 1553.07 1348.07 1555.4 1348.44C1557.74 1348.81 1560.07 1349.18 1562.41 1349.57C1564.74 1349.95 1567.07 1350.34 1569.4 1350.75C1571.73 1351.15 1574.05 1351.56 1576.38 1351.99C1578.7 1352.41 1581.02 1352.85 1583.34 1353.29C1585.66 1353.74 1587.98 1354.2 1590.29 1354.67C1592.61 1355.14 1594.92 1355.63 1597.23 1356.12C1599.54 1356.62 1601.84 1357.13 1604.14 1357.66C1606.45 1358.18 1608.74 1358.72 1611.04 1359.28C1613.34 1359.83 1615.63 1360.4 1617.92 1360.98C1620.21 1361.56 1622.5 1362.16 1624.78 1362.76C1627.07 1363.36 1629.35 1363.97 1631.63 1364.58C1633.92 1365.2 1636.2 1365.82 1638.48 1366.44C1640.76 1367.06 1643.04 1367.69 1645.31 1368.32C1647.59 1368.95 1649.87 1369.58 1652.15 1370.2C1654.43 1370.83 1656.71 1371.45 1658.99 1372.07C1661.27 1372.69 1663.55 1373.3 1665.83 1373.91C1668.12 1374.51 1670.4 1375.11 1672.69 1375.7C1674.97 1376.29 1677.26 1376.87 1679.55 1377.43C1681.84 1377.99 1684.13 1378.55 1686.43 1379.08C1688.73 1379.62 1691.03 1380.14 1693.33 1380.64C1695.63 1381.14 1697.94 1381.62 1700.25 1382.08C1702.56 1382.54 1706.04 1383.18 1707.2 1383.4" stroke="#0000ff"/>
<path d="M1143.5 1336C1143.5 1334.78 1143.42 1331.11 1143.52 1328.69C1143.61 1326.27 1143.8 1323.86 1144.07 1321.48C1144.34 1319.09 1144.7 1316.72 1145.14 1314.38C1145.58 1312.04 1146.1 1309.72 1146.7 1307.42C1147.3 1305.13 1147.98 1302.86 1148.73 1300.63C1149.48 1298.39 1150.32 1296.19 1151.21 1294.02C1152.11 1291.85 1153.09 1289.71 1154.12 1287.61C1155.16 1285.51 1156.27 1283.44 1157.44 1281.42C1158.6 1279.4 1159.84 1277.42 1161.13 1275.49C1162.42 1273.55 1163.78 1271.66 1165.19 1269.82C1166.6 1267.98 1168.07 1266.18 1169.59 1264.44C1171.1 1262.7 1172.68 1261.01 1174.3 1259.37C1175.92 1257.74 1177.59 1256.16 1179.31 1254.63C1181.02 1253.1 1182.79 1251.63 1184.59 1250.2C1186.39 1248.78 1188.23 1247.4 1190.11 1246.07C1191.99 1244.74 1193.92 1243.45 1195.87 1242.21C1197.82 1240.96 1199.81 1239.76 1201.82 1238.6C1203.84 1237.43 1205.89 1236.31 1207.96 1235.22C1210.03 1234.13 1212.13 1233.07 1214.25 1232.05C1216.37 1231.02 1218.52 1230.03 1220.68 1229.07C1222.84 1228.1 1225.02 1227.17 1227.21 1226.25C1229.4 1225.34 1231.62 1224.46 1233.83 1223.59C1236.05 1222.72 1238.28 1221.88 1240.52 1221.05C1242.75 1220.22 1245 1219.41 1247.24 1218.61C1249.49 1217.81 1251.74 1217.03 1253.99 1216.26C1256.24 1215.49 1258.49 1214.73 1260.75 1213.99C1263 1213.24 1265.26 1212.51 1267.52 1211.78C1269.78 1211.06 1272.04 1210.35 1274.3 1209.64C1276.56 1208.94 1278.83 1208.25 1281.09 1207.56C1283.36 1206.88 1285.62 1206.2 1287.89 1205.54C1290.16 1204.87 1292.43 1204.21 1294.7 1203.56C1296.97 1202.91 1299.24 1202.26 1301.51 1201.62C1303.78 1200.98 1306.06 1200.35 1308.33 1199.72C1310.6 1199.09 1312.88 1198.47 1315.15 1197.85C1317.42 1197.23 1319.7 1196.62 1321.97 1196.01C1324.25 1195.4 1326.52 1194.79 1328.8 1194.19C1331.07 1193.58 1333.35 1192.98 1335.62 1192.38C1337.89 1191.77 1340.17 1191.18 1342.44 1190.58C1344.72 1189.98 1346.99 1189.38 1349.26 1188.78C1351.53 1188.18 1353.81 1187.58 1356.08 1186.98C1358.35 1186.37 1360.62 1185.77 1362.89 1185.17C1365.16 1184.56 1367.43 1183.95 1369.69 1183.34C1371.96 1182.73 1374.23 1182.12 1376.49 1181.5C1378.75 1180.88 1381.02 1180.26 1383.28 1179.63C1385.54 1179 1387.8 1178.37 1390.05 1177.73C1392.31 1177.09 1394.57 1176.45 1396.82 1175.8C1399.07 1175.14 1401.33 1174.48 1403.58 1173.82C1405.82 1173.15 1408.07 1172.48 1410.32 1171.79C1412.56 1171.11 1414.8 1170.41 1417.04 1169.71C1419.28 1169.01 1421.52 1168.3 1423.75 1167.57C1425.98 1166.85 1428.21 1166.11 1430.44 1165.37C1432.67 1164.62 1434.89 1163.86 1437.11 1163.09C1439.34 1162.32 1441.55 1161.54 1443.77 1160.74C1445.98 1159.95 1448.19 1159.14 1450.4 1158.32C1452.61 1157.49 1454.81 1156.66 1457.01 1155.81C1459.21 1154.96 1461.4 1154.09 1463.59 1153.22C1465.78 1152.34 1467.97 1151.45 1470.15 1150.55C1472.33 1149.65 1474.5 1148.73 1476.68 1147.8C1478.85 1146.88 1481.01 1145.93 1483.17 1144.98C1485.33 1144.02 1487.49 1143.05 1489.63 1142.07C1491.78 1141.09 1493.93 1140.09 1496.06 1139.09C1498.2 1138.08 1500.33 1137.06 1502.45 1136.02C1504.58 1134.98 1506.7 1133.94 1508.81 1132.87C1510.92 1131.81 1513.02 1130.74 1515.12 1129.65C1517.21 1128.56 1519.3 1127.46 1521.39 1126.34C1523.47 1125.23 1525.54 1124.1 1527.61 1122.96C1529.68 1121.82 1531.74 1120.66 1533.79 1119.49C1535.84 1118.32 1537.88 1117.14 1539.91 1115.94C1541.95 1114.74 1543.97 1113.53 1545.98 1112.3C1548 1111.08 1550 1109.83 1551.99 1108.57C1553.98 1107.32 1555.96 1106.04 1557.92 1104.75C1559.88 1103.45 1561.84 1102.14 1563.78 1100.82C1565.71 1099.49 1567.64 1098.14 1569.55 1096.78C1571.46 1095.41 1573.35 1094.03 1575.23 1092.63C1577.11 1091.23 1578.97 1089.8 1580.82 1088.36C1582.66 1086.92 1584.49 1085.46 1586.3 1083.97C1588.11 1082.49 1589.9 1080.99 1591.67 1079.46C1593.44 1077.93 1595.2 1076.38 1596.93 1074.81C1598.66 1073.24 1600.37 1071.65 1602.06 1070.03C1603.75 1068.41 1605.42 1066.77 1607.07 1065.11C1608.72 1063.44 1610.34 1061.76 1611.94 1060.05C1613.55 1058.34 1615.13 1056.6 1616.69 1054.85C1618.24 1053.1 1619.78 1051.32 1621.29 1049.53C1622.81 1047.73 1624.3 1045.92 1625.77 1044.08C1627.24 1042.24 1628.68 1040.39 1630.1 1038.51C1631.53 1036.64 1632.93 1034.75 1634.3 1032.83C1635.68 1030.92 1637.03 1028.99 1638.37 1027.05C1639.7 1025.1 1641 1023.13 1642.29 1021.15C1643.57 1019.17 1644.83 1017.18 1646.07 1015.16C1647.31 1013.15 1648.52 1011.12 1649.71 1009.08C1650.9 1007.04 1652.06 1004.98 1653.2 1002.91C1654.35 1000.84 1655.46 998.75 1656.56 996.65C1657.65 994.55 1658.72 992.44 1659.76 990.32C1660.81 988.19 1661.83 986.06 1662.82 983.91C1663.82 981.76 1664.79 979.6 1665.74 977.43C1666.68 975.26 1667.6 973.08 1668.5 970.89C1669.4 968.7 1670.27 966.5 1671.11 964.29C1671.96 962.08 1672.78 959.87 1673.58 957.64C1674.37 955.42 1675.14 953.18 1675.89 950.94C1676.63 948.7 1677.35 946.45 1678.04 944.2C1678.74 941.94 1679.4 939.68 1680.05 937.41C1680.69 935.15 1681.3 932.87 1681.89 930.6C1682.48 928.32 1683.05 926.04 1683.58 923.75C1684.12 921.47 1684.63 919.18 1685.11 916.89C1685.6 914.59 1686.06 912.3 1686.49 910C1686.92 907.7 1687.5 904.25 1687.7 903.1" stroke="#0000ff"/>
<path d="M1143.5 999C1143.53 1000.19 1143.62 1003.77 1143.67 1006.16C1143.72 1008.54 1143.75 1010.92 1143.78 1013.3C1143.81 1015.69 1143.83 1018.07 1143.84 1020.44C1143.85 1022.82 1143.85 1025.2 1143.85 1027.58C1143.85 1029.96 1143.84 1032.33 1143.83 1034.71C1143.81 1037.08 1143.79 1039.45 1143.77 1041.83C1143.75 1044.2 1143.72 1046.57 1143.69 1048.94C1143.66 1051.31 1143.63 1053.68 1143.59 1056.05C1143.56 1058.42 1143.53 1060.79 1143.49 1063.16C1143.46 1065.52 1143.42 1067.89 1143.38 1070.26C1143.35 1072.62 1143.32 1074.99 1143.28 1077.35C1143.25 1079.72 1143.22 1082.08 1143.2 1084.44C1143.17 1086.81 1143.15 1089.17 1143.13 1091.53C1143.12 1093.89 1143.1 1096.26 1143.09 1098.62C1143.09 1100.98 1143.09 1103.34 1143.09 1105.7C1143.1 1108.06 1143.11 1110.42 1143.13 1112.78C1143.15 1115.14 1143.18 1117.5 1143.22 1119.86C1143.26 1122.22 1143.31 1124.58 1143.37 1126.94C1143.43 1129.3 1143.5 1131.66 1143.58 1134.01C1143.67 1136.37 1143.76 1138.73 1143.87 1141.09C1143.98 1143.45 1144.1 1145.81 1144.23 1148.17C1144.37 1150.53 1144.52 1152.88 1144.68 1155.24C1144.85 1157.6 1145.03 1159.96 1145.23 1162.32C1145.42 1164.68 1145.64 1167.04 1145.87 1169.4C1146.1 1171.76 1146.35 1174.12 1146.63 1176.48C1146.9 1178.84 1147.19 1181.2 1147.5 1183.56C1147.81 1185.92 1148.14 1188.28 1148.49 1190.64C1148.84 1193.01 1149.22 1195.37 1149.61 1197.73C1150.01 1200.09 1150.43 1202.46 1150.88 1204.82C1151.32 1207.18 1151.79 1209.55 1152.29 1211.91C1152.79 1214.27 1153.32 1216.63 1153.88 1218.97C1154.45 1221.31 1155.04 1223.65 1155.68 1225.97C1156.32 1228.29 1157 1230.6 1157.72 1232.89C1158.45 1235.17 1159.22 1237.44 1160.04 1239.68C1160.86 1241.93 1161.73 1244.15 1162.66 1246.33C1163.59 1248.52 1164.57 1250.69 1165.61 1252.81C1166.66 1254.93 1167.76 1257.02 1168.93 1259.06C1170.1 1261.1 1171.33 1263.1 1172.63 1265.03C1173.94 1266.96 1175.3 1268.85 1176.74 1270.65C1178.18 1272.45 1179.69 1274.2 1181.28 1275.85C1182.86 1277.5 1184.52 1279.08 1186.26 1280.56C1187.99 1282.04 1189.81 1283.42 1191.69 1284.73C1193.57 1286.03 1195.52 1287.25 1197.53 1288.39C1199.53 1289.53 1201.6 1290.59 1203.7 1291.59C1205.81 1292.59 1207.97 1293.51 1210.15 1294.38C1212.34 1295.25 1214.57 1296.05 1216.81 1296.8C1219.05 1297.56 1221.33 1298.25 1223.61 1298.91C1225.89 1299.57 1228.19 1300.18 1230.5 1300.75C1232.81 1301.33 1235.14 1301.86 1237.47 1302.37C1239.8 1302.88 1242.14 1303.35 1244.49 1303.81C1246.84 1304.26 1249.19 1304.69 1251.55 1305.11C1253.91 1305.52 1256.27 1305.91 1258.63 1306.31C1261 1306.7 1263.36 1307.07 1265.72 1307.45C1268.09 1307.83 1270.45 1308.2 1272.81 1308.58C1275.17 1308.95 1277.53 1309.32 1279.89 1309.69C1282.25 1310.06 1284.61 1310.43 1286.96 1310.8C1289.32 1311.17 1291.67 1311.53 1294.03 1311.89C1296.38 1312.26 1298.73 1312.62 1301.09 1312.98C1303.44 1313.34 1305.79 1313.7 1308.14 1314.05C1310.49 1314.41 1312.84 1314.77 1315.19 1315.12C1317.54 1315.47 1319.88 1315.83 1322.23 1316.18C1324.58 1316.53 1326.92 1316.88 1329.27 1317.23C1331.61 1317.58 1333.96 1317.92 1336.3 1318.27C1338.65 1318.62 1340.99 1318.96 1343.34 1319.31C1345.68 1319.65 1348.02 1319.99 1350.36 1320.33C1352.71 1320.68 1355.05 1321.02 1357.39 1321.36C1359.73 1321.7 1362.07 1322.03 1364.41 1322.37C1366.76 1322.71 1369.1 1323.05 1371.44 1323.38C1373.78 1323.72 1376.12 1324.06 1378.46 1324.39C1380.8 1324.73 1383.14 1325.06 1385.48 1325.39C1387.82 1325.73 1390.16 1326.06 1392.5 1326.39C1394.84 1326.72 1397.18 1327.05 1399.52 1327.39C1401.86 1327.72 1404.2 1328.05 1406.54 1328.38C1408.88 1328.71 1411.22 1329.04 1413.57 1329.37C1415.91 1329.7 1418.25 1330.03 1420.59 1330.35C1422.93 1330.68 1425.27 1331.01 1427.62 1331.34C1429.96 1331.67 1432.3 1332 1434.65 1332.32C1436.99 1332.65 1439.33 1332.98 1441.68 1333.31C1444.02 1333.63 1446.37 1333.96 1448.71 1334.29C1451.06 1334.62 1453.41 1334.95 1455.75 1335.27C1458.1 1335.6 1460.45 1335.93 1462.8 1336.26C1465.15 1336.59 1467.5 1336.91 1469.85 1337.24C1472.2 1337.57 1474.55 1337.9 1476.9 1338.23C1479.26 1338.56 1481.61 1338.89 1483.96 1339.22C1486.32 1339.55 1488.67 1339.88 1491.02 1340.22C1493.38 1340.56 1495.73 1340.9 1498.09 1341.24C1500.44 1341.58 1502.79 1341.93 1505.15 1342.28C1507.5 1342.64 1509.85 1342.99 1512.2 1343.36C1514.55 1343.72 1516.9 1344.09 1519.25 1344.47C1521.6 1344.85 1523.94 1345.23 1526.29 1345.62C1528.63 1346.02 1530.97 1346.42 1533.31 1346.83C1535.65 1347.24 1537.99 1347.66 1540.33 1348.09C1542.66 1348.52 1544.99 1348.96 1547.32 1349.41C1549.65 1349.87 1551.98 1350.33 1554.3 1350.81C1556.62 1351.28 1558.94 1351.77 1561.26 1352.28C1563.57 1352.78 1565.88 1353.3 1568.19 1353.83C1570.5 1354.36 1572.8 1354.91 1575.1 1355.47C1577.39 1356.03 1579.69 1356.61 1581.97 1357.21C1584.26 1357.8 1586.55 1358.42 1588.82 1359.05C1591.1 1359.68 1593.37 1360.33 1595.64 1360.99C1597.9 1361.66 1600.16 1362.35 1602.42 1363.06C1604.67 1363.77 1606.92 1364.49 1609.16 1365.24C1611.4 1365.99 1613.63 1366.76 1615.86 1367.56C1618.09 1368.35 1620.31 1369.17 1622.52 1370.01C1624.73 1370.85 1626.94 1371.71 1629.14 1372.6C1631.33 1373.48 1633.52 1374.4 1635.7 1375.33C1637.88 1376.27 1640.06 1377.24 1642.22 1378.23C1644.39 1379.22 1646.54 1380.23 1648.69 1381.28C1650.84 1382.33 1654.03 1383.96 1655.1 1384.5" stroke="#008000"/>
<path d="M1143.5 1326C1143.46 1324.76 1143.24 1321.01 1143.26 1318.54C1143.29 1316.08 1143.42 1313.63 1143.64 1311.21C1143.87 1308.79 1144.19 1306.4 1144.61 1304.03C1145.02 1301.67 1145.54 1299.33 1146.14 1297.03C1146.73 1294.73 1147.43 1292.46 1148.2 1290.23C1148.97 1288 1149.83 1285.8 1150.76 1283.65C1151.7 1281.49 1152.71 1279.37 1153.8 1277.3C1154.89 1275.23 1156.06 1273.2 1157.29 1271.22C1158.52 1269.24 1159.83 1267.31 1161.19 1265.43C1162.56 1263.55 1164 1261.71 1165.49 1259.94C1166.98 1258.16 1168.54 1256.44 1170.15 1254.78C1171.76 1253.11 1173.43 1251.51 1175.15 1249.96C1176.86 1248.41 1178.63 1246.92 1180.44 1245.47C1182.26 1244.03 1184.12 1242.64 1186.02 1241.29C1187.92 1239.95 1189.86 1238.65 1191.84 1237.4C1193.82 1236.14 1195.84 1234.93 1197.88 1233.76C1199.93 1232.59 1202.01 1231.46 1204.11 1230.36C1206.22 1229.27 1208.35 1228.21 1210.51 1227.18C1212.66 1226.15 1214.84 1225.16 1217.03 1224.19C1219.22 1223.22 1221.44 1222.28 1223.66 1221.36C1225.88 1220.44 1228.12 1219.55 1230.36 1218.68C1232.6 1217.8 1234.85 1216.95 1237.11 1216.12C1239.36 1215.28 1241.61 1214.46 1243.87 1213.65C1246.13 1212.85 1248.39 1212.06 1250.65 1211.28C1252.91 1210.5 1255.17 1209.74 1257.43 1208.98C1259.69 1208.23 1261.96 1207.49 1264.22 1206.76C1266.49 1206.03 1268.76 1205.31 1271.02 1204.6C1273.29 1203.89 1275.56 1203.19 1277.83 1202.5C1280.1 1201.81 1282.37 1201.13 1284.64 1200.46C1286.91 1199.78 1289.18 1199.11 1291.45 1198.45C1293.72 1197.79 1296 1197.14 1298.27 1196.49C1300.54 1195.83 1302.81 1195.19 1305.08 1194.55C1307.36 1193.91 1309.63 1193.27 1311.9 1192.63C1314.18 1192 1316.45 1191.37 1318.72 1190.74C1320.99 1190.1 1323.26 1189.48 1325.54 1188.85C1327.81 1188.22 1330.08 1187.59 1332.35 1186.96C1334.62 1186.33 1336.89 1185.7 1339.16 1185.06C1341.43 1184.43 1343.69 1183.79 1345.96 1183.15C1348.23 1182.51 1350.49 1181.87 1352.76 1181.23C1355.02 1180.58 1357.29 1179.93 1359.55 1179.27C1361.81 1178.61 1364.07 1177.95 1366.33 1177.28C1368.59 1176.61 1370.85 1175.93 1373.11 1175.25C1375.36 1174.56 1377.62 1173.87 1379.87 1173.17C1382.12 1172.47 1384.38 1171.75 1386.62 1171.03C1388.87 1170.31 1391.12 1169.58 1393.36 1168.83C1395.61 1168.09 1397.85 1167.33 1400.09 1166.56C1402.33 1165.79 1404.57 1165.01 1406.8 1164.22C1409.04 1163.42 1411.27 1162.61 1413.5 1161.78C1415.73 1160.96 1417.96 1160.12 1420.18 1159.26C1422.4 1158.41 1424.62 1157.54 1426.84 1156.65C1429.05 1155.76 1431.26 1154.86 1433.47 1153.94C1435.67 1153.02 1437.87 1152.09 1440.07 1151.14C1442.26 1150.19 1444.45 1149.23 1446.63 1148.24C1448.81 1147.26 1450.99 1146.26 1453.15 1145.25C1455.32 1144.23 1457.48 1143.2 1459.63 1142.16C1461.78 1141.11 1463.92 1140.04 1466.06 1138.96C1468.19 1137.88 1470.32 1136.78 1472.43 1135.67C1474.54 1134.55 1476.65 1133.42 1478.74 1132.27C1480.84 1131.12 1482.92 1129.95 1484.99 1128.76C1487.06 1127.58 1489.12 1126.38 1491.17 1125.15C1493.22 1123.93 1495.26 1122.69 1497.28 1121.44C1499.3 1120.18 1501.31 1118.91 1503.31 1117.61C1505.31 1116.32 1507.29 1115.01 1509.26 1113.68C1511.22 1112.35 1513.18 1111 1515.11 1109.63C1517.05 1108.26 1518.98 1106.88 1520.88 1105.47C1522.79 1104.07 1524.68 1102.64 1526.55 1101.2C1528.43 1099.75 1530.28 1098.29 1532.12 1096.81C1533.96 1095.32 1535.78 1093.82 1537.58 1092.3C1539.39 1090.78 1541.17 1089.24 1542.94 1087.68C1544.7 1086.11 1546.45 1084.53 1548.17 1082.93C1549.9 1081.33 1551.61 1079.71 1553.29 1078.06C1554.98 1076.42 1556.64 1074.76 1558.28 1073.07C1559.93 1071.39 1561.55 1069.69 1563.15 1067.96C1564.75 1066.24 1566.32 1064.49 1567.88 1062.72C1569.43 1060.96 1570.96 1059.17 1572.47 1057.36C1573.97 1055.55 1575.46 1053.72 1576.92 1051.87C1578.38 1050.02 1579.82 1048.15 1581.23 1046.26C1582.64 1044.37 1584.03 1042.47 1585.4 1040.54C1586.77 1038.62 1588.11 1036.67 1589.44 1034.71C1590.76 1032.75 1592.06 1030.77 1593.33 1028.78C1594.61 1026.79 1595.86 1024.77 1597.09 1022.75C1598.32 1020.72 1599.52 1018.68 1600.71 1016.62C1601.89 1014.57 1603.05 1012.5 1604.19 1010.41C1605.33 1008.33 1606.44 1006.23 1607.53 1004.12C1608.62 1002 1609.69 999.88 1610.74 997.74C1611.79 995.6 1612.81 993.46 1613.81 991.29C1614.81 989.13 1615.79 986.96 1616.74 984.78C1617.7 982.6 1618.63 980.4 1619.54 978.2C1620.45 976 1621.34 973.78 1622.2 971.56C1623.07 969.34 1623.91 967.11 1624.73 964.87C1625.55 962.64 1626.34 960.39 1627.12 958.13C1627.89 955.88 1628.64 953.62 1629.37 951.35C1630.1 949.09 1630.81 946.81 1631.49 944.53C1632.18 942.26 1632.84 939.97 1633.48 937.68C1634.12 935.39 1634.74 933.1 1635.33 930.8C1635.93 928.5 1636.5 926.2 1637.05 923.9C1637.6 921.59 1638.13 919.29 1638.63 916.98C1639.14 914.67 1639.62 912.35 1640.08 910.04C1640.54 907.73 1641.18 904.26 1641.4 903.1" stroke="#008000"/>
<path d="M1143.5 997.5C1143.52 998.69 1143.58 1002.25 1143.61 1004.62C1143.64 1006.99 1143.66 1009.36 1143.68 1011.73C1143.7 1014.1 1143.71 1016.47 1143.71 1018.84C1143.72 1021.21 1143.72 1023.58 1143.72 1025.94C1143.72 1028.31 1143.71 1030.68 1143.7 1033.04C1143.69 1035.41 1143.68 1037.77 1143.67 1040.14C1143.66 1042.5 1143.64 1044.86 1143.63 1047.23C1143.61 1049.59 1143.59 1051.95 1143.58 1054.31C1143.56 1056.67 1143.55 1059.03 1143.53 1061.39C1143.52 1063.75 1143.51 1066.11 1143.49 1068.47C1143.48 1070.83 1143.48 1073.19 1143.47 1075.54C1143.47 1077.9 1143.46 1080.26 1143.47 1082.62C1143.47 1084.97 1143.48 1087.33 1143.49 1089.68C1143.5 1092.04 1143.52 1094.39 1143.55 1096.75C1143.57 1099.1 1143.6 1101.45 1143.64 1103.81C1143.68 1106.16 1143.73 1108.51 1143.78 1110.87C1143.84 1113.22 1143.9 1115.57 1143.97 1117.92C1144.04 1120.27 1144.13 1122.63 1144.22 1124.98C1144.31 1127.33 1144.41 1129.68 1144.53 1132.03C1144.65 1134.38 1144.77 1136.73 1144.91 1139.08C1145.05 1141.43 1145.2 1143.78 1145.37 1146.12C1145.53 1148.47 1145.71 1150.82 1145.9 1153.17C1146.1 1155.52 1146.31 1157.87 1146.53 1160.22C1146.75 1162.56 1146.99 1164.91 1147.25 1167.26C1147.51 1169.61 1147.78 1171.96 1148.07 1174.3C1148.36 1176.65 1148.67 1179 1149 1181.34C1149.32 1183.69 1149.67 1186.04 1150.03 1188.39C1150.4 1190.73 1150.79 1193.08 1151.19 1195.43C1151.6 1197.77 1152.02 1200.12 1152.47 1202.47C1152.92 1204.81 1153.39 1207.16 1153.89 1209.5C1154.39 1211.85 1154.91 1214.19 1155.47 1216.52C1156.03 1218.84 1156.61 1221.17 1157.24 1223.48C1157.87 1225.79 1158.53 1228.09 1159.24 1230.37C1159.95 1232.65 1160.69 1234.91 1161.49 1237.15C1162.29 1239.4 1163.14 1241.62 1164.04 1243.82C1164.94 1246.01 1165.89 1248.19 1166.9 1250.33C1167.91 1252.47 1168.98 1254.59 1170.12 1256.66C1171.25 1258.72 1172.44 1260.76 1173.71 1262.72C1174.97 1264.69 1176.3 1266.61 1177.7 1268.44C1179.11 1270.28 1180.58 1272.06 1182.13 1273.74C1183.68 1275.42 1185.3 1277.03 1187.01 1278.54C1188.71 1280.04 1190.5 1281.45 1192.36 1282.76C1194.21 1284.08 1196.15 1285.3 1198.14 1286.45C1200.13 1287.59 1202.18 1288.65 1204.28 1289.65C1206.38 1290.64 1208.53 1291.55 1210.71 1292.42C1212.89 1293.28 1215.13 1294.08 1217.37 1294.83C1219.62 1295.58 1221.9 1296.27 1224.19 1296.94C1226.47 1297.6 1228.78 1298.21 1231.09 1298.8C1233.4 1299.39 1235.71 1299.94 1238.03 1300.47C1240.35 1301.01 1242.67 1301.51 1245 1301.99C1247.33 1302.47 1249.66 1302.93 1251.99 1303.38C1254.32 1303.82 1256.66 1304.24 1258.99 1304.66C1261.33 1305.08 1263.67 1305.48 1266.01 1305.88C1268.35 1306.27 1270.69 1306.66 1273.03 1307.05C1275.37 1307.43 1277.7 1307.82 1280.04 1308.2C1282.38 1308.58 1284.72 1308.95 1287.06 1309.33C1289.4 1309.7 1291.74 1310.07 1294.08 1310.44C1296.42 1310.81 1298.75 1311.17 1301.09 1311.54C1303.43 1311.9 1305.77 1312.26 1308.11 1312.62C1310.45 1312.98 1312.79 1313.34 1315.12 1313.69C1317.46 1314.04 1319.8 1314.4 1322.14 1314.75C1324.48 1315.1 1326.81 1315.44 1329.15 1315.79C1331.49 1316.14 1333.83 1316.48 1336.17 1316.83C1338.5 1317.17 1340.84 1317.51 1343.18 1317.85C1345.52 1318.19 1347.85 1318.53 1350.19 1318.87C1352.53 1319.2 1354.87 1319.54 1357.2 1319.88C1359.54 1320.21 1361.88 1320.55 1364.22 1320.88C1366.55 1321.21 1368.89 1321.54 1371.23 1321.88C1373.56 1322.21 1375.9 1322.54 1378.24 1322.87C1380.57 1323.2 1382.91 1323.53 1385.25 1323.86C1387.58 1324.19 1389.92 1324.52 1392.26 1324.85C1394.59 1325.18 1396.93 1325.51 1399.27 1325.84C1401.6 1326.17 1403.94 1326.5 1406.28 1326.83C1408.61 1327.16 1410.95 1327.49 1413.29 1327.82C1415.62 1328.15 1417.96 1328.48 1420.29 1328.81C1422.63 1329.14 1424.97 1329.47 1427.3 1329.81C1429.64 1330.14 1431.97 1330.47 1434.31 1330.81C1436.65 1331.14 1438.98 1331.48 1441.32 1331.81C1443.65 1332.15 1445.99 1332.49 1448.33 1332.83C1450.66 1333.17 1453 1333.51 1455.33 1333.85C1457.67 1334.19 1460 1334.53 1462.34 1334.88C1464.67 1335.22 1467.01 1335.57 1469.35 1335.92C1471.68 1336.27 1474.02 1336.62 1476.35 1336.97C1478.69 1337.32 1481.02 1337.68 1483.36 1338.04C1485.69 1338.39 1488.03 1338.75 1490.36 1339.11C1492.7 1339.48 1495.03 1339.84 1497.37 1340.21C1499.7 1340.58 1502.03 1340.95 1504.37 1341.33C1506.7 1341.71 1509.03 1342.09 1511.36 1342.47C1513.7 1342.86 1516.03 1343.25 1518.36 1343.64C1520.69 1344.04 1523.01 1344.44 1525.34 1344.85C1527.67 1345.26 1530 1345.67 1532.32 1346.09C1534.64 1346.51 1536.97 1346.94 1539.29 1347.37C1541.61 1347.8 1543.93 1348.25 1546.25 1348.69C1548.57 1349.14 1550.88 1349.6 1553.2 1350.07C1555.51 1350.53 1557.83 1351 1560.14 1351.49C1562.45 1351.97 1564.75 1352.46 1567.06 1352.96C1569.37 1353.47 1571.67 1353.98 1573.97 1354.5C1576.27 1355.02 1578.57 1355.55 1580.87 1356.09C1583.16 1356.64 1585.45 1357.19 1587.74 1357.75C1590.03 1358.32 1592.32 1358.9 1594.61 1359.48C1596.89 1360.07 1599.17 1360.67 1601.45 1361.29C1603.73 1361.9 1606 1362.53 1608.27 1363.17C1610.54 1363.81 1612.81 1364.46 1615.07 1365.12C1617.34 1365.79 1619.6 1366.47 1621.85 1367.17C1624.11 1367.86 1626.36 1368.57 1628.61 1369.3C1630.86 1370.02 1633.1 1370.76 1635.34 1371.52C1637.58 1372.27 1639.82 1373.04 1642.05 1373.83C1644.28 1374.62 1646.51 1375.42 1648.73 1376.24C1650.95 1377.06 1653.17 1377.9 1655.38 1378.76C1657.59 1379.61 1659.8 1380.49 1662 1381.38C1664.21 1382.27 1667.5 1383.65 1668.6 1384.11" stroke="#ff0000"/>
<path d="M1143.5 1334C1143.48 1332.79 1143.34 1329.13 1143.39 1326.71C1143.44 1324.29 1143.59 1321.87 1143.82 1319.46C1144.05 1317.06 1144.37 1314.67 1144.77 1312.3C1145.17 1309.92 1145.66 1307.57 1146.23 1305.24C1146.8 1302.91 1147.45 1300.6 1148.18 1298.32C1148.91 1296.05 1149.71 1293.79 1150.59 1291.58C1151.47 1289.37 1152.43 1287.18 1153.45 1285.05C1154.48 1282.91 1155.58 1280.8 1156.75 1278.75C1157.91 1276.7 1159.15 1274.68 1160.45 1272.73C1161.75 1270.77 1163.11 1268.86 1164.54 1267C1165.96 1265.15 1167.46 1263.35 1169 1261.62C1170.55 1259.88 1172.16 1258.21 1173.82 1256.6C1175.47 1254.98 1177.19 1253.43 1178.95 1251.92C1180.71 1250.42 1182.53 1248.97 1184.38 1247.57C1186.24 1246.17 1188.14 1244.83 1190.08 1243.53C1192.02 1242.22 1194 1240.97 1196.01 1239.76C1198.02 1238.54 1200.07 1237.37 1202.15 1236.24C1204.22 1235.11 1206.33 1234.01 1208.46 1232.95C1210.59 1231.89 1212.74 1230.87 1214.92 1229.87C1217.09 1228.87 1219.28 1227.91 1221.49 1226.96C1223.69 1226.02 1225.92 1225.11 1228.15 1224.22C1230.38 1223.32 1232.62 1222.45 1234.87 1221.6C1237.11 1220.74 1239.36 1219.91 1241.61 1219.09C1243.86 1218.27 1246.12 1217.47 1248.38 1216.68C1250.64 1215.89 1252.9 1215.12 1255.16 1214.35C1257.43 1213.59 1259.69 1212.85 1261.96 1212.11C1264.23 1211.38 1266.5 1210.66 1268.78 1209.94C1271.05 1209.23 1273.33 1208.53 1275.6 1207.84C1277.88 1207.15 1280.16 1206.47 1282.44 1205.8C1284.72 1205.13 1287.01 1204.47 1289.29 1203.81C1291.57 1203.16 1293.86 1202.51 1296.15 1201.87C1298.43 1201.22 1300.72 1200.59 1303.01 1199.96C1305.3 1199.33 1307.59 1198.7 1309.88 1198.08C1312.17 1197.46 1314.46 1196.84 1316.75 1196.23C1319.04 1195.61 1321.33 1195 1323.62 1194.39C1325.91 1193.78 1328.2 1193.17 1330.49 1192.56C1332.78 1191.95 1335.07 1191.34 1337.36 1190.73C1339.65 1190.12 1341.94 1189.51 1344.23 1188.9C1346.52 1188.29 1348.81 1187.67 1351.09 1187.05C1353.38 1186.43 1355.66 1185.81 1357.95 1185.18C1360.23 1184.56 1362.52 1183.93 1364.8 1183.29C1367.08 1182.65 1369.36 1182.01 1371.63 1181.36C1373.91 1180.7 1376.19 1180.05 1378.46 1179.38C1380.73 1178.72 1383 1178.04 1385.27 1177.36C1387.54 1176.67 1389.81 1175.98 1392.07 1175.28C1394.34 1174.57 1396.6 1173.86 1398.85 1173.13C1401.11 1172.4 1403.37 1171.67 1405.62 1170.91C1407.87 1170.16 1410.12 1169.4 1412.36 1168.62C1414.61 1167.84 1416.85 1167.04 1419.09 1166.23C1421.32 1165.42 1423.56 1164.6 1425.79 1163.76C1428.02 1162.92 1430.24 1162.06 1432.46 1161.19C1434.68 1160.31 1436.89 1159.42 1439.09 1158.52C1441.3 1157.61 1443.5 1156.69 1445.69 1155.75C1447.88 1154.8 1450.07 1153.85 1452.24 1152.87C1454.42 1151.89 1456.59 1150.9 1458.75 1149.88C1460.91 1148.87 1463.06 1147.84 1465.19 1146.79C1467.33 1145.73 1469.46 1144.66 1471.58 1143.57C1473.7 1142.48 1475.81 1141.37 1477.91 1140.24C1480 1139.11 1482.09 1137.96 1484.16 1136.79C1486.23 1135.62 1488.29 1134.43 1490.33 1133.21C1492.38 1132 1494.41 1130.76 1496.43 1129.51C1498.45 1128.25 1500.45 1126.97 1502.44 1125.67C1504.43 1124.37 1506.4 1123.05 1508.36 1121.7C1510.32 1120.36 1512.26 1118.99 1514.18 1117.6C1516.11 1116.21 1518.02 1114.8 1519.91 1113.36C1521.8 1111.93 1523.68 1110.47 1525.54 1108.99C1527.39 1107.52 1529.23 1106.02 1531.06 1104.5C1532.88 1102.98 1534.68 1101.44 1536.47 1099.88C1538.25 1098.32 1540.02 1096.74 1541.77 1095.14C1543.52 1093.53 1545.25 1091.91 1546.95 1090.27C1548.66 1088.63 1550.35 1086.97 1552.02 1085.28C1553.69 1083.6 1555.34 1081.9 1556.97 1080.18C1558.6 1078.46 1560.21 1076.72 1561.8 1074.96C1563.39 1073.2 1564.95 1071.43 1566.5 1069.63C1568.04 1067.84 1569.56 1066.02 1571.06 1064.19C1572.56 1062.36 1574.04 1060.51 1575.5 1058.64C1576.96 1056.77 1578.39 1054.88 1579.8 1052.98C1581.21 1051.08 1582.6 1049.16 1583.97 1047.22C1585.34 1045.29 1586.68 1043.34 1588 1041.37C1589.33 1039.4 1590.63 1037.42 1591.91 1035.42C1593.18 1033.42 1594.44 1031.41 1595.68 1029.38C1596.91 1027.36 1598.12 1025.32 1599.32 1023.26C1600.51 1021.21 1601.68 1019.14 1602.82 1017.06C1603.97 1014.98 1605.1 1012.88 1606.2 1010.78C1607.3 1008.67 1608.39 1006.56 1609.45 1004.43C1610.51 1002.3 1611.55 1000.16 1612.56 998C1613.58 995.85 1614.58 993.69 1615.55 991.52C1616.53 989.34 1617.48 987.16 1618.41 984.97C1619.34 982.78 1620.25 980.57 1621.14 978.36C1622.03 976.15 1622.9 973.93 1623.74 971.7C1624.59 969.48 1625.41 967.24 1626.21 965C1627.02 962.75 1627.8 960.5 1628.56 958.25C1629.32 955.99 1630.06 953.72 1630.78 951.45C1631.5 949.18 1632.2 946.91 1632.87 944.62C1633.55 942.34 1634.21 940.05 1634.84 937.76C1635.48 935.47 1636.09 933.17 1636.68 930.87C1637.27 928.57 1637.85 926.26 1638.4 923.95C1638.95 921.65 1639.48 919.33 1639.99 917.02C1640.5 914.7 1640.99 912.39 1641.46 910.07C1641.92 907.75 1642.57 904.26 1642.8 903.1" stroke="#ff0000"/>
</g>
<g id="legend-1550">
<path d="M1559.1 1179.3H1622.6" stroke="#000000" stroke-width="17.8" stroke-linecap="round" fill="none"/>
<text transform="translate(1631.5 1188.9) scale(1 1.04)" font-size="26.5">2<tspan font-size="15.6" dy="-14.8" dx="1">nd</tspan><tspan dy="14.8"> cycle</tspan></text>
<path d="M1559.1 1220H1622.6" stroke="#0000ff" stroke-width="17.8" stroke-linecap="round" fill="none"/>
<text transform="translate(1631.5 1229.6) scale(1 1.04)" font-size="26.5">10<tspan font-size="15.6" dy="-14.8" dx="1">th</tspan><tspan dy="14.8"> cycle</tspan></text>
<path d="M1559.1 1260.5H1622.6" stroke="#008000" stroke-width="17.8" stroke-linecap="round" fill="none"/>
<text transform="translate(1631.5 1270.1) scale(1 1.04)" font-size="26.5">50<tspan font-size="15.6" dy="-14.8" dx="1">th</tspan><tspan dy="14.8"> cycle</tspan></text>
<path d="M1559.1 1301.25H1622.6" stroke="#ff0000" stroke-width="17.8" stroke-linecap="round" fill="none"/>
<text transform="translate(1631.5 1310.85) scale(1 1.04)" font-size="26.5">100<tspan font-size="15.6" dy="-14.8" dx="1">th</tspan><tspan dy="14.8"> cycle</tspan></text>
</g>
</svg>
</body>
</html>
